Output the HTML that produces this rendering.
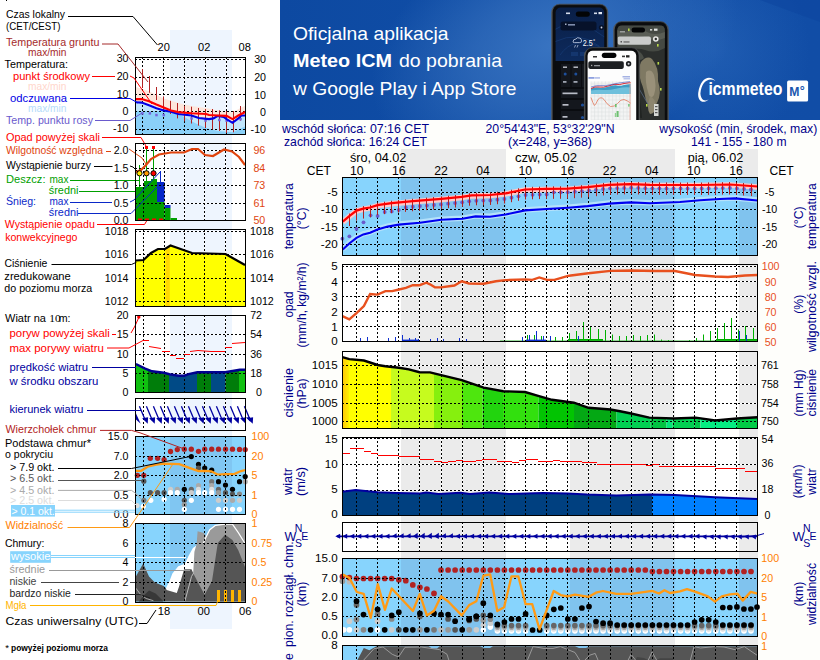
<!DOCTYPE html>
<html><head><meta charset="utf-8"><title>Meteo ICM</title>
<style>html,body{margin:0;padding:0;background:#fff;overflow:hidden}
svg{display:block} text{font-family:"Liberation Sans",sans-serif;white-space:pre}</style></head>
<body><svg width="820" height="660" viewBox="0 0 820 660">
<rect x="170" y="30" width="62" height="599" fill="#eef5fe"/>
<rect x="6" y="0" width="1" height="1" fill="#000"/>
<text x="6" y="18" font-size="10.67" fill="#000" textLength="59" lengthAdjust="spacingAndGlyphs">Czas lokalny</text>
<text x="6" y="29.5" font-size="10.67" fill="#000" textLength="54.5" lengthAdjust="spacingAndGlyphs">(CET/CEST)</text>
<polyline points="68.0,16.5 133.0,16.5 157.5,45.0" stroke="#000" stroke-width="1" fill="none"/>
<text x="157.5" y="50.8" font-size="10.67" fill="#000" textLength="12.3" lengthAdjust="spacingAndGlyphs">20</text>
<text x="198" y="50.8" font-size="10.67" fill="#000" textLength="12.3" lengthAdjust="spacingAndGlyphs">02</text>
<text x="238.5" y="50.8" font-size="10.67" fill="#000" textLength="12.3" lengthAdjust="spacingAndGlyphs">08</text>
<rect x="135" y="57" width="110" height="77" fill="#fff"/>
<rect x="170" y="57" width="62" height="77" fill="#eef5fe"/>
<path d="M184.5 57V134M205.5 57V134M226.5 57V134M170 59.5H232M170 77.5H232M170 94.5H232M170 111.5H232M170 129.5H232" stroke="#fff" stroke-width="1" fill="none" shape-rendering="crispEdges"/>
<polygon points="136.0,87.0 149.0,91.3 163.7,98.6 178.3,103.0 191.5,106.0 206.0,108.0 220.8,111.0 232.5,112.5 241.3,107.4 245.0,106.0 245.0,119.0 238.3,123.0 232.5,127.0 226.6,125.0 213.0,124.0 200.0,122.0 185.0,119.0 171.0,114.0 156.4,108.0 149.0,104.0 136.0,101.0" fill="#fde6dc"/>
<polygon points="135.9,102.3 141.7,102.6 149.0,105.2 156.4,108.2 163.7,110.4 171.0,111.8 178.3,114.0 191.5,115.5 198.8,118.0 209.0,119.1 213.5,118.4 217.8,115.9 223.7,116.9 226.6,119.1 232.5,122.8 238.3,118.4 241.3,115.5 245.7,115.5 245.0,134.0 190.0,134.0 184.5,120.6 163.7,115.5 150.0,111.5 136.0,111.2" fill="#c2e6fc"/>
<polygon points="136.0,111.1 171.0,111.1 184.2,117.0 194.4,122.8 206.1,128.0 217.8,131.0 232.5,132.3 245.0,126.5 245.0,134.0 136.0,134.0" fill="#8ad0f8"/>
<g stroke="#000" stroke-width="1" stroke-dasharray="2,2" shape-rendering="crispEdges">
<line x1="142.5" y1="57" x2="142.5" y2="134"/>
<line x1="163.5" y1="57" x2="163.5" y2="134"/>
<line x1="184.5" y1="57" x2="184.5" y2="134"/>
<line x1="205.5" y1="57" x2="205.5" y2="134"/>
<line x1="226.5" y1="57" x2="226.5" y2="134"/>
<line x1="135" y1="59.5" x2="245" y2="59.5"/>
<line x1="135" y1="77.5" x2="245" y2="77.5"/>
<line x1="135" y1="94.5" x2="245" y2="94.5"/>
<line x1="135" y1="111.5" x2="245" y2="111.5"/>
<line x1="135" y1="129.5" x2="245" y2="129.5"/>
</g>
<line x1="142.5" y1="69" x2="142.5" y2="88" stroke="#b22222" stroke-width="1"/>
<line x1="149.5" y1="76" x2="149.5" y2="92.8" stroke="#b22222" stroke-width="1"/>
<line x1="156.5" y1="87" x2="156.5" y2="100" stroke="#b22222" stroke-width="1"/>
<line x1="163.5" y1="96.4" x2="163.5" y2="111" stroke="#b22222" stroke-width="1"/>
<line x1="170.5" y1="100.8" x2="170.5" y2="114" stroke="#b22222" stroke-width="1"/>
<line x1="177.5" y1="103" x2="177.5" y2="118.4" stroke="#b22222" stroke-width="1"/>
<line x1="184.5" y1="106" x2="184.5" y2="121.3" stroke="#b22222" stroke-width="1"/>
<line x1="191.5" y1="106.7" x2="191.5" y2="123.5" stroke="#b22222" stroke-width="1"/>
<line x1="198.5" y1="108" x2="198.5" y2="125.7" stroke="#b22222" stroke-width="1"/>
<line x1="205.5" y1="109" x2="205.5" y2="128" stroke="#b22222" stroke-width="1"/>
<line x1="212.5" y1="109" x2="212.5" y2="129.4" stroke="#b22222" stroke-width="1"/>
<line x1="219.5" y1="110.4" x2="219.5" y2="130.9" stroke="#b22222" stroke-width="1"/>
<line x1="226.5" y1="111" x2="226.5" y2="133" stroke="#b22222" stroke-width="1"/>
<line x1="233.5" y1="111" x2="233.5" y2="132.3" stroke="#b22222" stroke-width="1"/>
<line x1="240.5" y1="106" x2="240.5" y2="120.6" stroke="#b22222" stroke-width="1"/>
<rect x="141.20000000000002" y="112.1" width="2.5" height="2.5" fill="#7565dc"/>
<rect x="148.60000000000002" y="112.1" width="2.5" height="2.5" fill="#7565dc"/>
<rect x="155.20000000000002" y="113.8" width="2.5" height="2.5" fill="#7565dc"/>
<rect x="162.5" y="113.8" width="2.5" height="2.5" fill="#7565dc"/>
<rect x="190.3" y="117.2" width="2.5" height="2.5" fill="#7565dc"/>
<rect x="204.3" y="119.3" width="2.5" height="2.5" fill="#7565dc"/>
<rect x="218.10000000000002" y="118.7" width="2.5" height="2.5" fill="#7565dc"/>
<rect x="225.4" y="119.39999999999999" width="2.5" height="2.5" fill="#7565dc"/>
<rect x="239.3" y="117.89999999999999" width="2.5" height="2.5" fill="#7565dc"/>
<polyline points="135.9,102.3 141.7,102.6 149.0,105.2 156.4,108.2 163.7,110.4 171.0,111.8 178.3,114.0 191.5,115.5 198.8,118.0 209.0,119.1 213.5,118.4 217.8,115.9 223.7,116.9 226.6,119.1 232.5,122.8 238.3,118.4 241.3,115.5 245.7,115.5" stroke="#0000e6" stroke-width="2.1" fill="none"/>
<polyline points="135.9,99.1 141.7,99.1 149.0,101.3 156.4,104.5 163.7,107.4 171.0,110.4 178.3,112.1 191.5,113.3 206.1,114.0 209.0,115.0 217.8,115.5 226.6,115.9 232.5,119.1 238.3,115.5 245.7,111.8" stroke="#ff0000" stroke-width="2.1" fill="none"/>
<rect x="135.5" y="57.5" width="110" height="77" fill="none" stroke="#000" stroke-width="1" shape-rendering="crispEdges"/>
<text x="128.5" y="62.4" font-size="10.67" fill="#000" text-anchor="end">30</text>
<text x="266" y="63.4" font-size="10.67" fill="#000" text-anchor="end">30</text>
<text x="128.5" y="80.2" font-size="10.67" fill="#000" text-anchor="end">20</text>
<text x="266" y="81.2" font-size="10.67" fill="#000" text-anchor="end">20</text>
<text x="128.5" y="97.5" font-size="10.67" fill="#000" text-anchor="end">10</text>
<text x="266" y="98.5" font-size="10.67" fill="#000" text-anchor="end">10</text>
<text x="128.5" y="115" font-size="10.67" fill="#000" text-anchor="end">0</text>
<text x="266" y="116" font-size="10.67" fill="#000" text-anchor="end">0</text>
<text x="128.5" y="132.4" font-size="10.67" fill="#000" text-anchor="end">-10</text>
<text x="266" y="133.4" font-size="10.67" fill="#000" text-anchor="end">-10</text>
<text x="6" y="46" font-size="10.67" fill="#a52a2a" textLength="93.5" lengthAdjust="spacingAndGlyphs">Temperatura gruntu</text>
<text x="28" y="56" font-size="10.67" fill="#a52a2a" textLength="38.5" lengthAdjust="spacingAndGlyphs">max/min</text>
<polyline points="102.0,44.0 118.0,44.0 148.0,82.0" stroke="#a52a2a" stroke-width="1" fill="none"/>
<text x="4.6" y="67.5" font-size="10.67" fill="#000" textLength="63.4" lengthAdjust="spacingAndGlyphs">Temperatura:</text>
<text x="13" y="79.5" font-size="10.67" fill="#ff0000" textLength="77" lengthAdjust="spacingAndGlyphs">punkt środkowy</text>
<polyline points="92.0,76.5 115.0,76.5" stroke="#ff0000" stroke-width="1" fill="none"/>
<polyline points="130.0,76.0 134.0,78.0 152.0,104.0" stroke="#ff0000" stroke-width="1" fill="none"/>
<text x="28" y="89.5" font-size="10.67" fill="#ffd6cc" textLength="38.5" lengthAdjust="spacingAndGlyphs">max/min</text>
<text x="10" y="101.5" font-size="10.67" fill="#0000e6" textLength="57" lengthAdjust="spacingAndGlyphs">odczuwana</text>
<polyline points="70.0,98.5 130.0,98.5 138.0,103.0" stroke="#0000e6" stroke-width="1" fill="none"/>
<text x="28" y="111.5" font-size="10.67" fill="#b4dcfa" textLength="38.5" lengthAdjust="spacingAndGlyphs">max/min</text>
<text x="6" y="123.5" font-size="10.67" fill="#6a5acd" textLength="87" lengthAdjust="spacingAndGlyphs">Temp. punktu rosy</text>
<polyline points="95.0,120.5 130.0,120.5 142.0,113.0" stroke="#6a5acd" stroke-width="1" fill="none"/>
<rect x="135" y="143" width="110" height="77" fill="#fff"/>
<rect x="170" y="143" width="62" height="77" fill="#eef5fe"/>
<path d="M184.5 143V220M204.5 143V220M225.5 143V220M170 150.5H232M170 168.5H232M170 185.5H232M170 203.5H232" stroke="#fff" stroke-width="1" fill="none" shape-rendering="crispEdges"/>
<rect x="136" y="187" width="8" height="33" fill="#00a000"/>
<rect x="144" y="181" width="7" height="39" fill="#00a000"/>
<rect x="151" y="179" width="6" height="41" fill="#00a000"/>
<rect x="157" y="182" width="7.5" height="20" fill="#0a28c8"/>
<rect x="157" y="202" width="7.5" height="18" fill="#00a000"/>
<rect x="164.5" y="205" width="6" height="3" fill="#0a28c8"/>
<rect x="164.5" y="208" width="6" height="12" fill="#00a000"/>
<rect x="170.5" y="218" width="6.5" height="2" fill="#00a000"/>
<line x1="139.5" y1="165" x2="139.5" y2="187" stroke="#00a000" stroke-width="1"/>
<line x1="146.5" y1="148" x2="146.5" y2="181" stroke="#00a000" stroke-width="1"/>
<line x1="153.5" y1="148" x2="153.5" y2="179" stroke="#00a000" stroke-width="1"/>
<line x1="160.5" y1="171" x2="160.5" y2="182" stroke="#0a28c8" stroke-width="1"/>
<g stroke="#000" stroke-width="1" stroke-dasharray="2,2" shape-rendering="crispEdges">
<line x1="143.5" y1="143" x2="143.5" y2="220"/>
<line x1="164.5" y1="143" x2="164.5" y2="220"/>
<line x1="184.5" y1="143" x2="184.5" y2="220"/>
<line x1="204.5" y1="143" x2="204.5" y2="220"/>
<line x1="225.5" y1="143" x2="225.5" y2="220"/>
<line x1="135" y1="150.5" x2="245" y2="150.5"/>
<line x1="135" y1="168.5" x2="245" y2="168.5"/>
<line x1="135" y1="185.5" x2="245" y2="185.5"/>
<line x1="135" y1="203.5" x2="245" y2="203.5"/>
</g>
<rect x="145" y="146" width="3" height="3" fill="#ff0000"/>
<rect x="152" y="146" width="3" height="3" fill="#ff0000"/>
<rect x="138" y="218.5" width="4" height="1.5" fill="#ff0000"/>
<rect x="145" y="218.5" width="4" height="1.5" fill="#ff0000"/>
<rect x="152" y="218.5" width="4" height="1.5" fill="#ff0000"/>
<rect x="159" y="218.5" width="4" height="1.5" fill="#ff0000"/>
<polyline points="136.0,172.0 141.0,170.0 146.0,165.0 151.0,159.0 159.0,154.5 171.0,152.5 184.0,152.5 192.0,149.0 198.0,149.0 205.0,155.0 213.0,156.0 224.0,149.5 232.0,151.5 239.0,157.0 245.0,165.0" stroke="#e0440e" stroke-width="2.2" fill="none"/>
<circle cx="139.5" cy="173.3" r="2.6" fill="#ffe600" stroke="#000" stroke-width="1"/>
<circle cx="146.5" cy="173.3" r="2.6" fill="#ff9900" stroke="#000" stroke-width="1"/>
<circle cx="153.5" cy="173.3" r="2.6" fill="#ff0000" stroke="#000" stroke-width="1"/>
<polyline points="102.0,137.5 141.0,137.5 146.0,146.0" stroke="#ff0000" stroke-width="1" fill="none"/>
<polyline points="106.0,151.5 111.0,151.5" stroke="#e0440e" stroke-width="1" fill="none"/>
<polyline points="129.0,149.0 142.0,158.0 146.0,164.0" stroke="#e0440e" stroke-width="1" fill="none"/>
<polyline points="94.0,166.5 112.5,166.5" stroke="#000" stroke-width="1" fill="none"/>
<polyline points="130.0,166.0 133.0,167.0 138.0,172.0" stroke="#000" stroke-width="1" fill="none"/>
<polyline points="70.0,180.5 139.0,180.5" stroke="#00a000" stroke-width="1" fill="none"/>
<polyline points="79.0,191.5 136.0,191.5" stroke="#00a000" stroke-width="1" fill="none"/>
<polyline points="70.0,202.5 112.0,202.5" stroke="#0a28c8" stroke-width="1" fill="none"/>
<polyline points="130.0,202.0 134.0,200.0 160.0,172.0" stroke="#0a28c8" stroke-width="1" fill="none"/>
<polyline points="78.0,213.5 131.0,213.5 158.0,186.0" stroke="#0a28c8" stroke-width="1" fill="none"/>
<polyline points="97.0,224.5 144.5,224.5 147.5,219.5" stroke="#ff0000" stroke-width="1" fill="none"/>
<rect x="135.5" y="143.5" width="110" height="77" fill="none" stroke="#000" stroke-width="1" shape-rendering="crispEdges"/>
<text x="128.5" y="154" font-size="10.67" fill="#000" text-anchor="end">2.0</text>
<text x="128.5" y="172" font-size="10.67" fill="#000" text-anchor="end">1.5</text>
<text x="128.5" y="189" font-size="10.67" fill="#000" text-anchor="end">1.0</text>
<text x="128.5" y="207" font-size="10.67" fill="#000" text-anchor="end">0.5</text>
<text x="128.5" y="224" font-size="10.67" fill="#000" text-anchor="end">0.0</text>
<text x="265.3" y="154" font-size="10.67" fill="#e0440e" text-anchor="end">96</text>
<text x="265.3" y="172" font-size="10.67" fill="#e0440e" text-anchor="end">84</text>
<text x="265.3" y="189" font-size="10.67" fill="#e0440e" text-anchor="end">73</text>
<text x="265.3" y="207" font-size="10.67" fill="#e0440e" text-anchor="end">61</text>
<text x="265.3" y="224" font-size="10.67" fill="#e0440e" text-anchor="end">50</text>
<text x="6" y="140.5" font-size="10.67" fill="#ff0000" textLength="94" lengthAdjust="spacingAndGlyphs">Opad powyżej skali</text>
<text x="6" y="154" font-size="10.67" fill="#e0440e" textLength="97" lengthAdjust="spacingAndGlyphs">Wilgotność względna</text>
<text x="6" y="168.5" font-size="10.67" fill="#000" textLength="85" lengthAdjust="spacingAndGlyphs">Wystąpienie burzy</text>
<text x="6" y="182.8" font-size="10.67" fill="#00a000" textLength="39.5" lengthAdjust="spacingAndGlyphs">Deszcz:</text>
<text x="49.5" y="182.8" font-size="10.67" fill="#00a000" textLength="19" lengthAdjust="spacingAndGlyphs">max</text>
<text x="48.8" y="193.8" font-size="10.67" fill="#00a000" textLength="29.6" lengthAdjust="spacingAndGlyphs">średni</text>
<text x="6" y="204.8" font-size="10.67" fill="#0a28c8" textLength="30" lengthAdjust="spacingAndGlyphs">Śnieg:</text>
<text x="49.5" y="204.8" font-size="10.67" fill="#0a28c8" textLength="19" lengthAdjust="spacingAndGlyphs">max</text>
<text x="48.8" y="215.8" font-size="10.67" fill="#0a28c8" textLength="29.6" lengthAdjust="spacingAndGlyphs">średni</text>
<text x="4.8" y="227.5" font-size="10.67" fill="#ff0000" textLength="90" lengthAdjust="spacingAndGlyphs">Wystąpienie opadu</text>
<text x="5.2" y="241" font-size="10.67" fill="#ff0000" textLength="72.2" lengthAdjust="spacingAndGlyphs">konwekcyjnego</text>
<rect x="135" y="229" width="110" height="77" fill="#fff"/>
<rect x="170" y="229" width="62" height="77" fill="#eef5fe"/>
<path d="M184.5 229V306M204.5 229V306M225.5 229V306M170 231.5H232M170 254.5H232M170 278.5H232M170 301.5H232" stroke="#fff" stroke-width="1" fill="none" shape-rendering="crispEdges"/>
<polygon points="136.0,260.5 143.5,260.0 151.0,253.0 158.0,249.0 165.0,249.0 170.5,245.5 192.0,253.0 225.5,254.0 245.0,265.0 245.0,306.0 136.0,306.0" fill="#ffff00"/>
<defs><linearGradient id="og" x1="0" x2="1" y1="0" y2="0"><stop offset="0" stop-color="#ffea10"/><stop offset="1" stop-color="#ffcc20"/></linearGradient></defs>
<polygon points="165.6,248.6 169.8,246.0 169.8,306.0 165.6,306.0" fill="#ffd800"/>
<g stroke="#000" stroke-width="1" stroke-dasharray="2,2" shape-rendering="crispEdges">
<line x1="143.5" y1="229" x2="143.5" y2="306"/>
<line x1="164.5" y1="229" x2="164.5" y2="306"/>
<line x1="184.5" y1="229" x2="184.5" y2="306"/>
<line x1="204.5" y1="229" x2="204.5" y2="306"/>
<line x1="225.5" y1="229" x2="225.5" y2="306"/>
<line x1="135" y1="231.5" x2="245" y2="231.5"/>
<line x1="135" y1="254.5" x2="245" y2="254.5"/>
<line x1="135" y1="278.5" x2="245" y2="278.5"/>
<line x1="135" y1="301.5" x2="245" y2="301.5"/>
</g>
<polyline points="136.0,260.5 143.5,260.0 151.0,253.0 158.0,249.0 165.0,249.0 170.5,245.5 192.0,253.0 225.5,254.0 245.0,265.0" stroke="#000" stroke-width="2.2" fill="none"/>
<rect x="135.5" y="229.5" width="110" height="77" fill="none" stroke="#000" stroke-width="1" shape-rendering="crispEdges"/>
<text x="128.5" y="235" font-size="10.67" fill="#000" text-anchor="end">1018</text>
<text x="273.8" y="235" font-size="10.67" fill="#000" text-anchor="end">1018</text>
<text x="128.5" y="258" font-size="10.67" fill="#000" text-anchor="end">1016</text>
<text x="273.8" y="258" font-size="10.67" fill="#000" text-anchor="end">1016</text>
<text x="128.5" y="282" font-size="10.67" fill="#000" text-anchor="end">1014</text>
<text x="273.8" y="282" font-size="10.67" fill="#000" text-anchor="end">1014</text>
<text x="128.5" y="305" font-size="10.67" fill="#000" text-anchor="end">1012</text>
<text x="273.8" y="305" font-size="10.67" fill="#000" text-anchor="end">1012</text>
<text x="4.4" y="266.7" font-size="10.67" fill="#000" textLength="43" lengthAdjust="spacingAndGlyphs">Ciśnienie</text>
<polyline points="51.5,264.5 131.5,264.5 136.5,262.2" stroke="#000" stroke-width="1" fill="none"/>
<text x="4.3" y="279.7" font-size="10.67" fill="#000" textLength="66.5" lengthAdjust="spacingAndGlyphs">zredukowane</text>
<text x="4.3" y="292.4" font-size="10.67" fill="#000" textLength="88" lengthAdjust="spacingAndGlyphs">do poziomu morza</text>
<rect x="135" y="315" width="110" height="77" fill="#fff"/>
<rect x="170" y="315" width="62" height="77" fill="#eef5fe"/>
<path d="M184.5 315V392M204.5 315V392M225.5 315V392M170 334.5H232M170 354.5H232M170 373.5H232" stroke="#fff" stroke-width="1" fill="none" shape-rendering="crispEdges"/>
<clipPath id="wclip"><polygon points="135.9,364 144.6,368.4 152,371.3 163.7,372.8 169.5,374.2 178.3,375.7 184.2,375.7 188.6,374.2 197.3,372.3 225.2,372.3 232.5,371 239.8,369.8 245.7,369.8 245,392 136,392"/></clipPath>
<g clip-path="url(#wclip)">
<rect x="136" y="360" width="12" height="32" fill="#10c010"/>
<rect x="148" y="360" width="21" height="32" fill="#007d0a"/>
<rect x="169" y="360" width="28" height="32" fill="#004a86"/>
<rect x="197" y="360" width="14" height="32" fill="#007d0a"/>
<rect x="211" y="360" width="14.5" height="32" fill="#004a86"/>
<rect x="225.5" y="360" width="13.5" height="32" fill="#007d0a"/>
<rect x="239" y="360" width="6" height="32" fill="#10c010"/>
</g>
<g stroke="#000" stroke-width="1" stroke-dasharray="2,2" shape-rendering="crispEdges">
<line x1="143.5" y1="315" x2="143.5" y2="392"/>
<line x1="164.5" y1="315" x2="164.5" y2="392"/>
<line x1="184.5" y1="315" x2="184.5" y2="392"/>
<line x1="204.5" y1="315" x2="204.5" y2="392"/>
<line x1="225.5" y1="315" x2="225.5" y2="392"/>
<line x1="135" y1="334.5" x2="245" y2="334.5"/>
<line x1="135" y1="354.5" x2="245" y2="354.5"/>
<line x1="135" y1="373.5" x2="245" y2="373.5"/>
</g>
<polyline points="135.9,364.0 144.6,368.4 152.0,371.3 163.7,372.8 169.5,374.2 178.3,375.7 184.2,375.7 188.6,374.2 197.3,372.3 225.2,372.3 232.5,371.0 239.8,369.8 245.7,369.8" stroke="#000090" stroke-width="2.4" fill="none"/>
<line x1="143" y1="340.5" x2="149" y2="340.5" stroke="#ff0000" stroke-width="1"/>
<line x1="149" y1="346.5" x2="161" y2="348.5" stroke="#ff0000" stroke-width="1"/>
<line x1="162" y1="351.5" x2="170" y2="351.5" stroke="#ff0000" stroke-width="1"/>
<line x1="170" y1="355.5" x2="176" y2="355.5" stroke="#ff0000" stroke-width="1"/>
<line x1="176" y1="358.5" x2="184" y2="358.5" stroke="#ff0000" stroke-width="1"/>
<line x1="184" y1="354.5" x2="190" y2="354.5" stroke="#ff0000" stroke-width="1"/>
<line x1="190" y1="351.5" x2="198" y2="350.5" stroke="#ff0000" stroke-width="1"/>
<line x1="198" y1="350.5" x2="211" y2="351.5" stroke="#ff0000" stroke-width="1"/>
<line x1="211" y1="351.5" x2="225" y2="351.5" stroke="#ff0000" stroke-width="1"/>
<line x1="225" y1="347.5" x2="232" y2="347.5" stroke="#ff0000" stroke-width="1"/>
<line x1="232" y1="343.5" x2="245" y2="342.5" stroke="#ff0000" stroke-width="1"/>
<circle cx="138.8" cy="317.1" r="1.7" fill="#ff0000"/>
<polyline points="139.0,317.0 135.0,326.0 131.0,333.0" stroke="#ff0000" stroke-width="1" fill="none"/>
<rect x="135.5" y="315.5" width="110" height="77" fill="none" stroke="#000" stroke-width="1" shape-rendering="crispEdges"/>
<text x="128.5" y="319" font-size="10.67" fill="#000" text-anchor="end">20</text>
<text x="128.5" y="338" font-size="10.67" fill="#000" text-anchor="end">15</text>
<text x="128.5" y="358" font-size="10.67" fill="#000" text-anchor="end">10</text>
<text x="128.5" y="377" font-size="10.67" fill="#000" text-anchor="end">5</text>
<text x="128.5" y="396" font-size="10.67" fill="#000" text-anchor="end">0</text>
<text x="262" y="319" font-size="10.67" fill="#000" text-anchor="end">72</text>
<text x="262" y="338" font-size="10.67" fill="#000" text-anchor="end">54</text>
<text x="262" y="358" font-size="10.67" fill="#000" text-anchor="end">36</text>
<text x="262" y="377" font-size="10.67" fill="#000" text-anchor="end">18</text>
<text x="262" y="396" font-size="10.67" fill="#000" text-anchor="end">0</text>
<text x="5" y="321.5" font-size="10.67" fill="#000" textLength="41" lengthAdjust="spacingAndGlyphs">Wiatr na</text>
<text x="49.3" y="321.5" font-size="11.4" fill="#000" style="font-family:Liberation Serif,serif">10</text>
<text x="58.7" y="321.5" font-size="10.67" fill="#000" textLength="11.8" lengthAdjust="spacingAndGlyphs">m:</text>
<text x="9.5" y="337.3" font-size="10.67" fill="#ff0000" textLength="100.4" lengthAdjust="spacingAndGlyphs">poryw powyżej skali</text>
<polyline points="112.0,334.5 116.0,334.5" stroke="#ff0000" stroke-width="1" fill="none"/>
<text x="9.5" y="351.6" font-size="10.67" fill="#ff0000" textLength="94.4" lengthAdjust="spacingAndGlyphs">max porywy wiatru</text>
<polyline points="107.0,348.0 129.0,348.0 143.0,340.5" stroke="#ff0000" stroke-width="1" fill="none"/>
<text x="9.5" y="371.3" font-size="10.67" fill="#0000a0" textLength="78.6" lengthAdjust="spacingAndGlyphs">prędkość wiatru</text>
<polyline points="92.0,367.5 136.0,367.5" stroke="#0000a0" stroke-width="1" fill="none"/>
<text x="9.5" y="384.6" font-size="10.67" fill="#0000a0" textLength="88.8" lengthAdjust="spacingAndGlyphs">w środku obszaru</text>
<rect x="135" y="398" width="110" height="32" fill="#fff"/>
<rect x="170" y="398" width="62" height="32" fill="#eef5fe"/>
<path d="M184.5 398V430M204.5 398V430M225.5 398V430" stroke="#fff" stroke-width="1" fill="none" shape-rendering="crispEdges"/>
<g stroke="#000" stroke-width="1" stroke-dasharray="2,2" shape-rendering="crispEdges">
<line x1="143.5" y1="398" x2="143.5" y2="430"/>
<line x1="164.5" y1="398" x2="164.5" y2="430"/>
<line x1="184.5" y1="398" x2="184.5" y2="430"/>
<line x1="204.5" y1="398" x2="204.5" y2="430"/>
<line x1="225.5" y1="398" x2="225.5" y2="430"/>
</g>
<line x1="139.4" y1="406.3" x2="145.20000000000002" y2="420" stroke="#0000a0" stroke-width="1.3"/>
<polygon points="147.7,423.8 142.1,418.2 148.1,417.2" fill="#0000a0"/>
<line x1="146.4" y1="406.3" x2="152.20000000000002" y2="420" stroke="#0000a0" stroke-width="1.3"/>
<polygon points="154.7,423.8 149.1,418.2 155.1,417.2" fill="#0000a0"/>
<line x1="153.4" y1="406.3" x2="159.20000000000002" y2="420" stroke="#0000a0" stroke-width="1.3"/>
<polygon points="161.7,423.8 156.1,418.2 162.1,417.2" fill="#0000a0"/>
<line x1="160.4" y1="406.3" x2="166.20000000000002" y2="420" stroke="#0000a0" stroke-width="1.3"/>
<polygon points="168.7,423.8 163.1,418.2 169.1,417.2" fill="#0000a0"/>
<line x1="167.4" y1="406.3" x2="173.20000000000002" y2="420" stroke="#0000a0" stroke-width="1.3"/>
<polygon points="175.7,423.8 170.1,418.2 176.1,417.2" fill="#0000a0"/>
<line x1="174.4" y1="406.3" x2="180.20000000000002" y2="420" stroke="#0000a0" stroke-width="1.3"/>
<polygon points="182.7,423.8 177.1,418.2 183.1,417.2" fill="#0000a0"/>
<line x1="181.4" y1="406.3" x2="187.20000000000002" y2="420" stroke="#0000a0" stroke-width="1.3"/>
<polygon points="189.7,423.8 184.1,418.2 190.1,417.2" fill="#0000a0"/>
<line x1="188.4" y1="406.3" x2="194.20000000000002" y2="420" stroke="#0000a0" stroke-width="1.3"/>
<polygon points="196.7,423.8 191.1,418.2 197.1,417.2" fill="#0000a0"/>
<line x1="195.4" y1="406.3" x2="201.20000000000002" y2="420" stroke="#0000a0" stroke-width="1.3"/>
<polygon points="203.7,423.8 198.1,418.2 204.1,417.2" fill="#0000a0"/>
<line x1="202.4" y1="406.3" x2="208.20000000000002" y2="420" stroke="#0000a0" stroke-width="1.3"/>
<polygon points="210.7,423.8 205.1,418.2 211.1,417.2" fill="#0000a0"/>
<line x1="209.4" y1="406.3" x2="215.20000000000002" y2="420" stroke="#0000a0" stroke-width="1.3"/>
<polygon points="217.7,423.8 212.1,418.2 218.1,417.2" fill="#0000a0"/>
<line x1="216.4" y1="406.3" x2="222.20000000000002" y2="420" stroke="#0000a0" stroke-width="1.3"/>
<polygon points="224.7,423.8 219.1,418.2 225.1,417.2" fill="#0000a0"/>
<line x1="223.4" y1="406.3" x2="229.20000000000002" y2="420" stroke="#0000a0" stroke-width="1.3"/>
<polygon points="231.7,423.8 226.1,418.2 232.1,417.2" fill="#0000a0"/>
<line x1="230.4" y1="406.3" x2="236.20000000000002" y2="420" stroke="#0000a0" stroke-width="1.3"/>
<polygon points="238.7,423.8 233.1,418.2 239.1,417.2" fill="#0000a0"/>
<line x1="237.4" y1="406.3" x2="243.20000000000002" y2="420" stroke="#0000a0" stroke-width="1.3"/>
<polygon points="245.7,423.8 240.1,418.2 246.1,417.2" fill="#0000a0"/>
<line x1="244.4" y1="406.3" x2="250.20000000000002" y2="420" stroke="#0000a0" stroke-width="1.3"/>
<polygon points="252.7,423.8 247.1,418.2 253.1,417.2" fill="#0000a0"/>
<polygon points="136.0,413.5 140.7,423.8 136.0,419.5" fill="#0000a0"/>
<polygon points="246.0,417.5 250.0,417.0 250.5,422.0" fill="#0000a0"/>
<rect x="135.5" y="398.5" width="110" height="32" fill="none" stroke="#000" stroke-width="1" shape-rendering="crispEdges"/>
<text x="9.5" y="412.8" font-size="10.67" fill="#0000a0" textLength="74" lengthAdjust="spacingAndGlyphs">kierunek wiatru</text>
<polyline points="87.0,410.5 141.0,410.5" stroke="#0000a0" stroke-width="1" fill="none"/>
<rect x="135" y="436" width="110" height="78" fill="#87d4fd"/>
<rect x="170" y="436" width="62" height="78" fill="#80c6f2"/>
<path d="M184.5 436V514M204.5 436V514M225.5 436V514M170 456.5H232M170 475.5H232M170 495.5H232" stroke="#87d4fd" stroke-width="1" fill="none" shape-rendering="crispEdges"/>
<circle cx="137.4" cy="475.3" r="2.65" fill="#b22222"/>
<circle cx="143.8" cy="475.3" r="2.65" fill="#b22222"/>
<circle cx="150.3" cy="458.3" r="2.65" fill="#b22222"/>
<circle cx="157.6" cy="458.3" r="2.65" fill="#b22222"/>
<circle cx="164.1" cy="459.6" r="2.65" fill="#b22222"/>
<circle cx="170.5" cy="451.5" r="2.65" fill="#b22222"/>
<circle cx="177.3" cy="449.6" r="2.65" fill="#b22222"/>
<circle cx="184.3" cy="449.2" r="2.65" fill="#b22222"/>
<circle cx="191.3" cy="449.2" r="2.65" fill="#b22222"/>
<circle cx="198.5" cy="451.3" r="2.65" fill="#b22222"/>
<circle cx="204.7" cy="449.2" r="2.65" fill="#b22222"/>
<circle cx="211.7" cy="449.2" r="2.65" fill="#b22222"/>
<circle cx="218.5" cy="449.2" r="2.65" fill="#b22222"/>
<circle cx="225.5" cy="449.2" r="2.65" fill="#b22222"/>
<circle cx="232.5" cy="449.2" r="2.65" fill="#b22222"/>
<circle cx="239.5" cy="449.4" r="2.65" fill="#b22222"/>
<circle cx="245.2" cy="449.6" r="2.65" fill="#b22222"/>
<circle cx="143.8" cy="481.2" r="2.6" fill="#555"/>
<circle cx="150.3" cy="492.7" r="2.6" fill="#555"/>
<circle cx="157.6" cy="492.7" r="2.6" fill="#555"/>
<circle cx="164.1" cy="492.7" r="2.6" fill="#555"/>
<circle cx="143.8" cy="500.3" r="2.6" fill="#777"/>
<circle cx="137.0" cy="505.6" r="2.6" fill="#ddd"/>
<circle cx="143.3" cy="506.3" r="2.6" fill="#fff"/>
<circle cx="150.8" cy="500.3" r="2.6" fill="#fff"/>
<circle cx="164.1" cy="499.3" r="2.6" fill="#fff"/>
<circle cx="170.5" cy="489.3" r="2.6" fill="#ccc"/>
<circle cx="170.5" cy="492.7" r="2.6" fill="#fff"/>
<circle cx="177.3" cy="489.3" r="2.6" fill="#aaa"/>
<circle cx="177.3" cy="492.7" r="2.6" fill="#fff"/>
<circle cx="184.3" cy="489.3" r="2.6" fill="#000"/>
<circle cx="184.3" cy="500.3" r="2.6" fill="#555"/>
<circle cx="184.3" cy="504.6" r="2.6" fill="#999"/>
<circle cx="184.3" cy="509.3" r="2.6" fill="#fff"/>
<circle cx="191.3" cy="489.3" r="2.6" fill="#666"/>
<circle cx="191.3" cy="492.7" r="2.6" fill="#ccc"/>
<circle cx="191.3" cy="500.3" r="2.6" fill="#fff"/>
<circle cx="191.3" cy="456.6" r="2.6" fill="#000"/>
<circle cx="198.5" cy="464.3" r="2.6" fill="#000"/>
<circle cx="198.5" cy="468.1" r="2.6" fill="#555"/>
<circle cx="204.7" cy="468.1" r="2.6" fill="#000"/>
<circle cx="211.7" cy="470.2" r="2.6" fill="#000"/>
<circle cx="198.5" cy="485.5" r="2.6" fill="#aaa"/>
<circle cx="198.5" cy="489.3" r="2.6" fill="#ddd"/>
<circle cx="198.5" cy="492.7" r="2.6" fill="#fff"/>
<circle cx="204.7" cy="492.7" r="2.6" fill="#fff"/>
<circle cx="211.7" cy="481.7" r="2.6" fill="#777"/>
<circle cx="211.7" cy="485.5" r="2.6" fill="#aaa"/>
<circle cx="211.7" cy="489.3" r="2.6" fill="#ddd"/>
<circle cx="211.7" cy="492.7" r="2.6" fill="#fff"/>
<circle cx="218.5" cy="481.7" r="2.6" fill="#000"/>
<circle cx="218.5" cy="489.3" r="2.6" fill="#666"/>
<circle cx="218.5" cy="492.7" r="2.6" fill="#999"/>
<circle cx="218.5" cy="500.3" r="2.6" fill="#ccc"/>
<circle cx="218.5" cy="509.3" r="2.6" fill="#fff"/>
<circle cx="225.5" cy="485.1" r="2.6" fill="#000"/>
<circle cx="225.5" cy="492.7" r="2.6" fill="#555"/>
<circle cx="225.5" cy="500.3" r="2.6" fill="#ccc"/>
<circle cx="225.5" cy="509.3" r="2.6" fill="#fff"/>
<circle cx="232.5" cy="489.3" r="2.6" fill="#000"/>
<circle cx="232.5" cy="494.0" r="2.6" fill="#555"/>
<circle cx="232.5" cy="500.3" r="2.6" fill="#aaa"/>
<circle cx="232.5" cy="509.3" r="2.6" fill="#fff"/>
<circle cx="239.5" cy="481.7" r="2.6" fill="#000"/>
<circle cx="239.5" cy="494.0" r="2.6" fill="#888"/>
<circle cx="239.5" cy="500.3" r="2.6" fill="#ccc"/>
<circle cx="239.5" cy="509.3" r="2.6" fill="#fff"/>
<circle cx="245.2" cy="476.6" r="2.6" fill="#000"/>
<circle cx="245.2" cy="481.7" r="2.6" fill="#aaa"/>
<g stroke="#000" stroke-width="1" stroke-dasharray="2,2" shape-rendering="crispEdges">
<line x1="143.5" y1="436" x2="143.5" y2="514"/>
<line x1="164.5" y1="436" x2="164.5" y2="514"/>
<line x1="184.5" y1="436" x2="184.5" y2="514"/>
<line x1="204.5" y1="436" x2="204.5" y2="514"/>
<line x1="225.5" y1="436" x2="225.5" y2="514"/>
<line x1="135" y1="456.5" x2="245" y2="456.5"/>
<line x1="135" y1="475.5" x2="245" y2="475.5"/>
<line x1="135" y1="495.5" x2="245" y2="495.5"/>
</g>
<polyline points="135.3,470.8 141.2,470.8 147.6,466.8 156.1,464.7 164.6,463.6 179.4,464.1 190.0,468.1 198.5,471.1 204.9,470.8 211.2,471.3 217.6,474.5 226.1,474.2 234.6,473.8 241.0,471.1 245.6,470.0" stroke="#ff9a14" stroke-width="2.2" fill="none"/>
<rect x="135.5" y="436.5" width="110" height="78" fill="none" stroke="#000" stroke-width="1" shape-rendering="crispEdges"/>
<text x="128.5" y="440" font-size="10.67" fill="#000" text-anchor="end">15.0</text>
<text x="128.5" y="460" font-size="10.67" fill="#000" text-anchor="end">7.0</text>
<text x="128.5" y="479" font-size="10.67" fill="#000" text-anchor="end">2.0</text>
<text x="128.5" y="499" font-size="10.67" fill="#000" text-anchor="end">0.5</text>
<text x="128.5" y="518" font-size="10.67" fill="#000" text-anchor="end">0.0</text>
<text x="251.5" y="440" font-size="10.67" fill="#ff8000">100</text>
<text x="251.5" y="460" font-size="10.67" fill="#ff8000">20</text>
<text x="251.5" y="479" font-size="10.67" fill="#ff8000">5</text>
<text x="251.5" y="499" font-size="10.67" fill="#ff8000">1</text>
<text x="251.5" y="518" font-size="10.67" fill="#ff8000">0</text>
<text x="5.5" y="432.6" font-size="10.67" fill="#b22222" textLength="91" lengthAdjust="spacingAndGlyphs">Wierzchołek chmur</text>
<polyline points="100.0,430.4 131.5,430.4 140.0,432.8 183.0,448.5" stroke="#b22222" stroke-width="1" fill="none"/>
<text x="5" y="447.3" font-size="10.67" fill="#000" textLength="86" lengthAdjust="spacingAndGlyphs">Podstawa chmur*</text>
<text x="5" y="458.4" font-size="10.67" fill="#000" textLength="48" lengthAdjust="spacingAndGlyphs">o pokryciu</text>
<text x="10" y="471.2" font-size="10.67" fill="#000" textLength="44.4" lengthAdjust="spacingAndGlyphs">> 7.9 okt.</text>
<polyline points="58.0,468.5 131.5,468.5 140.0,466.8 190.0,456.5" stroke="#000" stroke-width="1" fill="none"/>
<text x="10" y="482.4" font-size="10.67" fill="#555" textLength="44.4" lengthAdjust="spacingAndGlyphs">> 6.5 okt.</text>
<polyline points="58.0,480.5 142.0,480.5" stroke="#555" stroke-width="1" fill="none"/>
<text x="10" y="493.5" font-size="10.67" fill="#aaa" textLength="44.4" lengthAdjust="spacingAndGlyphs">> 4.5 okt.</text>
<polyline points="58.0,490.4 131.5,490.4 136.6,494.0 141.0,499.0" stroke="#aaa" stroke-width="1" fill="none"/>
<text x="10" y="503.7" font-size="10.67" fill="#ddd" textLength="44.4" lengthAdjust="spacingAndGlyphs">> 2.5 okt.</text>
<polyline points="58.0,500.5 131.5,500.5 136.0,505.0" stroke="#ddd" stroke-width="1" fill="none"/>
<rect x="11" y="505" width="44" height="11.6" fill="#87d4fd"/>
<text x="11.4" y="514.6" font-size="10.67" fill="#fff" textLength="43.4" lengthAdjust="spacingAndGlyphs">> 0.1 okt.</text>
<polyline points="55.0,510.2 135.0,510.2" stroke="#87d4fd" stroke-width="1" fill="none"/>
<polyline points="55.0,512.2 135.0,512.2" stroke="#87d4fd" stroke-width="1" fill="none"/>
<text x="5.5" y="529" font-size="10.67" fill="#ff8000" textLength="57.6" lengthAdjust="spacingAndGlyphs">Widzialność</text>
<polyline points="67.5,527.5 129.5,527.5 138.5,514.5 173.0,464.0" stroke="#ff9a14" stroke-width="1" fill="none"/>
<rect x="135" y="523" width="110" height="79" fill="#87d4fd"/>
<rect x="170" y="523" width="62" height="79" fill="#80c6f2"/>
<path d="M184.5 523V602M204.5 523V602M225.5 523V602M170 543.5H232M170 562.5H232M170 582.5H232" stroke="#87d4fd" stroke-width="1" fill="none" shape-rendering="crispEdges"/>
<clipPath id="kclip"><rect x="136" y="524" width="109" height="78"/></clipPath><g clip-path="url(#kclip)">
<polygon points="165.1,591.2 166.6,586.8 169.2,581.7 172.4,573.6 178.3,566.3 184.9,563.7 188.5,556.1 192.9,548.0 197.3,545.1 203.2,543.6 206.1,537.0 209.8,529.7 214.9,525.3 225.1,524.1 245.6,524.1 245.6,601.4 165.1,601.4" fill="#fff"/>
<polygon points="184.9,601.4 191.5,576.5 193.2,573.3 194.4,551.7 196.6,544.3 197.6,531.2 203.9,532.9 206.4,536.7 209.8,529.7 215.6,525.3 225.1,524.1 245.6,524.1 245.6,601.4" fill="#9a9a9a"/>
<polygon points="135.9,576.5 143.2,563.4 149.0,576.5 154.9,582.4 163.7,586.1 165.9,588.2 166.6,590.0 176.8,592.9 179.0,586.8 184.1,569.2 191.5,569.2 193.7,574.3 198.8,583.9 204.6,594.8 212.0,580.9 217.8,542.9 225.1,534.8 232.4,540.0 238.3,550.2 245.6,568.5 245.6,601.4 135.9,601.4" fill="#555"/>
<polygon points="138.8,601.4 143.9,595.6 149.0,590.4 155.6,593.4 162.9,600.7 162.9,601.4" fill="#383838"/>
</g>
<polyline points="135.9,588.2 140.2,594.1 146.1,598.5 153.4,600.7" stroke="#aaa" stroke-width="1" fill="none"/>
<polyline points="184.9,601.1 191.5,576.5 193.7,572.9" stroke="#bbb" stroke-width="1" fill="none"/>
<polyline points="203.2,543.6 206.1,537.0 209.8,529.7 215.6,525.3 225.1,524.1 232.4,524.1 238.3,532.6 244.9,543.2" stroke="#fff" stroke-width="1.2" fill="none"/>
<rect x="217" y="590" width="3" height="12" fill="#ffb400"/>
<rect x="224" y="590" width="3" height="12" fill="#ffb400"/>
<rect x="231" y="590" width="3" height="12" fill="#ffb400"/>
<rect x="238" y="590" width="3" height="12" fill="#ffb400"/>
<g stroke="#000" stroke-width="1" stroke-dasharray="2,2" shape-rendering="crispEdges">
<line x1="143.5" y1="523" x2="143.5" y2="602"/>
<line x1="164.5" y1="523" x2="164.5" y2="602"/>
<line x1="184.5" y1="523" x2="184.5" y2="602"/>
<line x1="204.5" y1="523" x2="204.5" y2="602"/>
<line x1="225.5" y1="523" x2="225.5" y2="602"/>
<line x1="135" y1="543.5" x2="245" y2="543.5"/>
<line x1="135" y1="562.5" x2="245" y2="562.5"/>
<line x1="135" y1="582.5" x2="245" y2="582.5"/>
</g>
<rect x="135.5" y="523.5" width="110" height="79" fill="none" stroke="#000" stroke-width="1" shape-rendering="crispEdges"/>
<text x="128.5" y="527" font-size="10.67" fill="#000" text-anchor="end">8</text>
<text x="128.5" y="547" font-size="10.67" fill="#000" text-anchor="end">6</text>
<text x="128.5" y="566" font-size="10.67" fill="#000" text-anchor="end">4</text>
<text x="128.5" y="586" font-size="10.67" fill="#000" text-anchor="end">2</text>
<text x="128.5" y="605" font-size="10.67" fill="#000" text-anchor="end">0</text>
<text x="251.5" y="527" font-size="10.67" fill="#ff8000">1</text>
<text x="251.5" y="547" font-size="10.67" fill="#ff8000">0.75</text>
<text x="251.5" y="566" font-size="10.67" fill="#ff8000">0.5</text>
<text x="251.5" y="586" font-size="10.67" fill="#ff8000">0.25</text>
<text x="251.5" y="605" font-size="10.67" fill="#ff8000">0</text>
<text x="5" y="546.5" font-size="10.67" fill="#000" textLength="39.4" lengthAdjust="spacingAndGlyphs">Chmury:</text>
<rect x="10.2" y="551.2" width="40.7" height="11.6" fill="#87d4fd"/>
<text x="11" y="559.8" font-size="11" fill="#fff" textLength="39.4" lengthAdjust="spacingAndGlyphs">wysokie</text>
<polyline points="51.0,555.5 135.0,555.5" stroke="#87d4fd" stroke-width="1" fill="none"/>
<polyline points="51.0,557.5 135.0,557.5" stroke="#87d4fd" stroke-width="1" fill="none"/>
<polyline points="135.0,557.5 186.0,557.5" stroke="#fff" stroke-width="1" fill="none"/>
<text x="9.5" y="572.7" font-size="10.67" fill="#999" textLength="35.6" lengthAdjust="spacingAndGlyphs">średnie</text>
<polyline points="49.0,570.5 190.0,570.5" stroke="#999" stroke-width="1" fill="none"/>
<text x="9.5" y="585" font-size="10.67" fill="#444" textLength="27" lengthAdjust="spacingAndGlyphs">niskie</text>
<polyline points="41.0,582.5 119.0,582.5" stroke="#444" stroke-width="1" fill="none"/>
<polyline points="130.0,582.5 135.0,582.5" stroke="#444" stroke-width="1" fill="none"/>
<text x="9.5" y="596.6" font-size="10.67" fill="#222" textLength="61.4" lengthAdjust="spacingAndGlyphs">bardzo niskie</text>
<polyline points="75.0,594.5 140.0,594.5 150.0,598.0" stroke="#222" stroke-width="1" fill="none"/>
<text x="5.5" y="608.7" font-size="10.67" fill="#ffb400" textLength="21" lengthAdjust="spacingAndGlyphs">Mgła</text>
<polyline points="30.0,605.5 216.0,605.5 219.0,598.0" stroke="#ffb400" stroke-width="1" fill="none"/>
<text x="157.8" y="614.5" font-size="10.67" fill="#000" textLength="12.4" lengthAdjust="spacingAndGlyphs">18</text>
<text x="197.6" y="614.5" font-size="10.67" fill="#000" textLength="12.4" lengthAdjust="spacingAndGlyphs">00</text>
<text x="239" y="614.5" font-size="10.67" fill="#000" textLength="12.4" lengthAdjust="spacingAndGlyphs">06</text>
<text x="5.5" y="625.4" font-size="11.2" fill="#000" textLength="132.5" lengthAdjust="spacingAndGlyphs">Czas uniwersalny (UTC)</text>
<polyline points="139.0,623.5 147.0,623.5 156.0,610.0" stroke="#000" stroke-width="1" fill="none"/>
<text x="5.3" y="651.2" font-size="9.5" fill="#000">*</text>
<text x="11" y="651.2" font-size="8.2" fill="#000" textLength="97" lengthAdjust="spacingAndGlyphs" font-weight="bold">powyżej poziomu morza</text>
<defs>
<linearGradient id="bg1" x1="0" y1="0" x2="1" y2="0">
<stop offset="0" stop-color="#0d49a1"/><stop offset="0.5" stop-color="#114fa8"/><stop offset="1" stop-color="#114da6"/>
</linearGradient>
<radialGradient id="sheen" gradientUnits="userSpaceOnUse" cx="0" cy="0" r="1" gradientTransform="translate(555 45) rotate(-20) scale(190 120)">
<stop offset="0" stop-color="#3d78c4" stop-opacity="0.9"/><stop offset="0.45" stop-color="#3a74c0" stop-opacity="0.6"/><stop offset="1" stop-color="#3a74c0" stop-opacity="0"/>
</radialGradient>
<radialGradient id="glow" gradientUnits="userSpaceOnUse" cx="715" cy="50" r="95">
<stop offset="0" stop-color="#3a78c6" stop-opacity="0.35"/><stop offset="1" stop-color="#3a78c6" stop-opacity="0"/>
</radialGradient>
<linearGradient id="metal" x1="0" y1="0" x2="1" y2="0">
<stop offset="0" stop-color="#6b6d6e"/><stop offset="0.06" stop-color="#1c1d1f"/><stop offset="0.94" stop-color="#1c1d1f"/><stop offset="1" stop-color="#5b5d5e"/>
</linearGradient>
<linearGradient id="navy" x1="0" y1="0" x2="0" y2="1">
<stop offset="0" stop-color="#0a1f47"/><stop offset="1" stop-color="#0d2a5c"/>
</linearGradient>
<clipPath id="bclip"><rect x="280" y="0" width="540" height="120"/></clipPath>
<clipPath id="s1"><rect x="555.6" y="7.6" width="48.6" height="130" rx="5"/></clipPath>
<clipPath id="s2"><rect x="617.4" y="25" width="47.4" height="110" rx="5"/></clipPath>
<clipPath id="s3"><rect x="587.6" y="50.8" width="48.6" height="90" rx="5"/></clipPath>
</defs>
<rect x="280" y="0" width="540" height="120" fill="url(#bg1)"/>
<rect x="280" y="0" width="540" height="120" fill="url(#sheen)"/>
<rect x="280" y="0" width="540" height="120" fill="url(#glow)"/>
<polygon points="760.0,0.0 820.0,0.0 820.0,22.0" fill="#0d46a0" opacity="0.6"/>
<g clip-path="url(#bclip)">
<rect x="551.6" y="4.2" width="56.2" height="136" rx="8" fill="url(#metal)" stroke="#4e5052" stroke-width="0.7"/>
<rect x="552.6" y="5.2" width="54.2" height="134" rx="7.2" fill="#0b0c0e"/>
<g clip-path="url(#s1)">
<rect x="554" y="7" width="52" height="54" fill="url(#navy)"/>
<rect x="554" y="61" width="52" height="70" fill="#0a0c10"/>
<path d="M554 30 q20 -14 40 0 t20 10 M554 42 q25 -12 45 4 M560 55 q14 -20 40 -8" stroke="#173a72" stroke-width="0.8" fill="none"/>
<rect x="560.5" y="21.5" width="36" height="9" rx="2.5" fill="#07122a"/>
<circle cx="601.5" cy="27.5" r="2.6" fill="#07122a"/><circle cx="601.5" cy="27.5" r="0.9" fill="#cfd6e4"/>
<rect x="565" y="23.5" width="1.5" height="1.5" fill="#a5b0c8"/>
<rect x="568" y="24" width="7" height="1.6" fill="#7f8cab"/>
<rect x="566" y="12.5" width="4" height="1.6" fill="#d5dbea"/>
<rect x="594" y="12.5" width="3" height="1.6" fill="#d5dbea"/>
<rect x="598.5" y="12" width="3.5" height="2.2" fill="#e5e9f3"/>
<path d="M573 42 q0 -3 3 -3 q1 -2 3.2 -1 q2.4 0 2.4 3 q0 1.6 -2 1.6 h-5 q-1.8 0 -1.6 -0.6z" fill="none" stroke="#c9d3e8" stroke-width="0.8"/>
<line x1="575.5" y1="45" x2="574.5" y2="47.5" stroke="#c9d3e8" stroke-width="0.7"/>
<line x1="578" y1="45" x2="577" y2="47.5" stroke="#c9d3e8" stroke-width="0.7"/>
<text x="582.8" y="46.2" font-size="8.6" fill="#fff" textLength="10" lengthAdjust="spacingAndGlyphs">2.5</text>
<text x="593" y="43" font-size="5.5" fill="#fff">°</text>
<rect x="571" y="52" width="7" height="4" fill="#14366e"/>
<rect x="580" y="52" width="7" height="4" fill="#14366e"/>
<rect x="561" y="64" width="9.5" height="23" fill="#14171d"/>
<rect x="571.5" y="64" width="9.5" height="23" fill="#14171d"/>
<rect x="582" y="64" width="5" height="23" fill="#14171d"/>
<rect x="563" y="66.5" width="4" height="1.4" fill="#c2c6cf"/>
<rect x="573.5" y="66.5" width="4.5" height="1.4" fill="#c2c6cf"/>
<circle cx="565.2" cy="74.0" r="1.5" fill="#1e4f9a"/>
<circle cx="575.8" cy="74.0" r="1.5" fill="#1e4f9a"/>
<rect x="563" y="81" width="3.5" height="1.8" fill="#9ea4b0"/>
<rect x="573.5" y="81" width="4" height="1.8" fill="#9ea4b0"/>
<rect x="561" y="89" width="26" height="9" fill="#14171d"/>
<rect x="562.5" y="92.5" width="15" height="1.7" fill="#b9bdc7"/>
<rect x="561" y="100" width="26" height="9" fill="#14171d"/>
<rect x="562.5" y="104" width="6" height="1.7" fill="#b9bdc7"/>
<circle cx="582.5" cy="105.0" r="1.6" fill="#1e4f9a"/>
<rect x="561" y="111" width="26" height="9" fill="#14171d"/>
<rect x="562.5" y="116" width="5" height="1.7" fill="#b9bdc7"/>
<circle cx="582.5" cy="117.5" r="1.6" fill="#1e4f9a"/>
</g>
<rect x="575.8" y="11.5" width="14" height="5.2" rx="2.6" fill="#030405"/>
<rect x="613.6" y="21.6" width="54.8" height="120" rx="8" fill="url(#metal)" stroke="#4e5052" stroke-width="0.7"/>
<rect x="614.6" y="22.6" width="52.8" height="118" rx="7.2" fill="#0b0c0e"/>
<g clip-path="url(#s2)">
<rect x="616" y="24" width="50" height="96" fill="#2c2f2d"/>
<path d="M617 26 h48 v22 q-10 6 -20 2 t-28 4z" fill="#454943"/>
<path d="M617 30 q8 4 14 0 q8 -4 16 2 q8 4 18 0 v6 q-10 4 -18 0 q-8 -4 -16 0 q-6 4 -14 0z" fill="#5a5e56"/>
<path d="M641 62 q6 -7 11 -3 q7 8 6 22 q4 12 -1 22 q-6 9 -11 -2 q-2 -12 -5 -19 q-4 -12 0 -20z" fill="#7f7963"/>
<path d="M646 72 q5 -4 8 3 q3 11 0 20 q-4 6 -6 -3 q-3 -10 -2 -20z" fill="#9a917a"/>
<path d="M650 96 q5 2 6 10 q-1 8 -6 8 q-4 -6 0 -18z" fill="#8d866f"/>
<path d="M618 60 q8 -3 14 2 q6 6 4 14 q-8 4 -18 -2z" fill="#202321"/>
<path d="M640 98 q-8 4 -10 12 q4 8 12 8z" fill="#1f2220"/>
<path d="M624 84 q6 -2 10 4 q2 8 -4 10 q-6 0 -8 -6z" fill="#3b3f3a"/>
<path d="M636 50 q6 2 8 8 q-4 4 -9 0z" fill="#4a4e47"/>
<path d="M622 50 q10 10 12 24 q4 16 14 30" stroke="#5c6f8a" stroke-width="0.7" fill="none"/>
<rect x="617.5" y="36.5" width="33.5" height="8.3" rx="2" fill="#c9cbca"/>
<rect x="620.5" y="41" width="1.5" height="1.5" fill="#555"/>
<rect x="623.5" y="41.2" width="6" height="1.5" fill="#777"/>
<circle cx="655.8" cy="39" r="2.8" fill="#e9e9e6"/><circle cx="655.8" cy="39" r="1.2" fill="#2c2f2d"/>
<rect x="628" y="28.5" width="1.6" height="2.6" fill="#b9d94a"/>
<rect x="657.5" y="62" width="1.6" height="2.6" fill="#b9d94a"/>
<rect x="660" y="88" width="1.6" height="2.6" fill="#b9d94a"/>
<rect x="646" y="104" width="1.6" height="2.6" fill="#b9d94a"/>
<rect x="657" y="44" width="1.6" height="2.6" fill="#b9d94a"/>
<rect x="650" y="29" width="2.2" height="1.6" fill="#d4d7d4"/>
<rect x="654" y="28.6" width="3.5" height="2.2" fill="#e4e6e4"/>
<rect x="620" y="31" width="5" height="1.5" fill="#9a9d9a"/>
<rect x="654" y="104" width="4.5" height="12" fill="#d8dad6"/>
<rect x="655" y="106" width="2.5" height="1.2" fill="#555"/>
<rect x="655" y="109" width="2.5" height="1.2" fill="#555"/>
<rect x="655" y="112" width="2.5" height="1.2" fill="#555"/>
</g>
<rect x="631.5" y="27.5" width="13.5" height="5" rx="2.5" fill="#030405"/>
<rect x="584.4" y="47.6" width="55.2" height="100" rx="8" fill="url(#metal)" stroke="#4e5052" stroke-width="0.7"/>
<rect x="585.4" y="48.6" width="53.2" height="98" rx="7.2" fill="#0b0c0e"/>
<g clip-path="url(#s3)">
<rect x="587" y="50" width="50" height="70" fill="#fdfdfd"/>
<rect x="588.3" y="61.3" width="35.5" height="7.6" rx="1.8" fill="#1d1f22"/>
<rect x="591" y="64.8" width="1.3" height="1.3" fill="#aaa"/>
<rect x="594" y="65" width="6" height="1.3" fill="#8e9196"/>
<circle cx="628.6" cy="63.8" r="2.7" fill="#1d1f22"/><circle cx="628.6" cy="63.8" r="1" fill="#d0d3d8"/>
<rect x="593" y="56" width="4" height="1.5" fill="#333"/>
<rect x="622" y="55.6" width="3" height="1.6" fill="#333"/>
<rect x="626" y="55.2" width="3.5" height="2.3" fill="#222"/>
<rect x="588.5" y="77" width="6" height="1.8" fill="#8da0e0"/>
<rect x="595" y="77" width="5" height="1.8" fill="#b9c3ea"/>
<rect x="622.5" y="76.2" width="7.5" height="1.2" fill="#8fa0dc"/>
<rect x="623.5" y="78.2" width="6.5" height="1.2" fill="#aab6e6"/>
<rect x="590.8" y="81.5" width="40" height="38.5" fill="#f3f4f4"/>
<g stroke="#cfd2d3" stroke-width="0.5">
<line x1="591.0" y1="81.5" x2="591.0" y2="120" stroke="#d9dcdd" stroke-width="0.5"/>
<line x1="594.6" y1="81.5" x2="594.6" y2="120" stroke="#d9dcdd" stroke-width="0.5"/>
<line x1="598.2" y1="81.5" x2="598.2" y2="120" stroke="#d9dcdd" stroke-width="0.5"/>
<line x1="601.8" y1="81.5" x2="601.8" y2="120" stroke="#d9dcdd" stroke-width="0.5"/>
<line x1="605.4" y1="81.5" x2="605.4" y2="120" stroke="#d9dcdd" stroke-width="0.5"/>
<line x1="609.0" y1="81.5" x2="609.0" y2="120" stroke="#d9dcdd" stroke-width="0.5"/>
<line x1="612.6" y1="81.5" x2="612.6" y2="120" stroke="#d9dcdd" stroke-width="0.5"/>
<line x1="616.2" y1="81.5" x2="616.2" y2="120" stroke="#d9dcdd" stroke-width="0.5"/>
<line x1="619.8" y1="81.5" x2="619.8" y2="120" stroke="#d9dcdd" stroke-width="0.5"/>
<line x1="623.4" y1="81.5" x2="623.4" y2="120" stroke="#d9dcdd" stroke-width="0.5"/>
<line x1="627.0" y1="81.5" x2="627.0" y2="120" stroke="#d9dcdd" stroke-width="0.5"/>
<line x1="630.6" y1="81.5" x2="630.6" y2="120" stroke="#d9dcdd" stroke-width="0.5"/>
<line x1="590.8" y1="84" x2="630.8" y2="84" stroke="#d9dcdd" stroke-width="0.5"/>
<line x1="590.8" y1="88" x2="630.8" y2="88" stroke="#d9dcdd" stroke-width="0.5"/>
<line x1="590.8" y1="92" x2="630.8" y2="92" stroke="#d9dcdd" stroke-width="0.5"/>
<line x1="590.8" y1="96" x2="630.8" y2="96" stroke="#d9dcdd" stroke-width="0.5"/>
<line x1="590.8" y1="100" x2="630.8" y2="100" stroke="#d9dcdd" stroke-width="0.5"/>
<line x1="590.8" y1="104" x2="630.8" y2="104" stroke="#d9dcdd" stroke-width="0.5"/>
<line x1="590.8" y1="108" x2="630.8" y2="108" stroke="#d9dcdd" stroke-width="0.5"/>
<line x1="590.8" y1="112" x2="630.8" y2="112" stroke="#d9dcdd" stroke-width="0.5"/>
<line x1="590.8" y1="116" x2="630.8" y2="116" stroke="#d9dcdd" stroke-width="0.5"/>
<line x1="590.8" y1="120" x2="630.8" y2="120" stroke="#d9dcdd" stroke-width="0.5"/>
</g>
<path d="M591 88.5 q4 -1.5 8 -0.8 t10 -1.2 t8 -1 t7 -0.6 l6.5 -0.8 v10 h-39.5z" fill="#3f9cc4"/>
<path d="M591 90.5 q6 -1 12 -0.5 t14 -1.5 t13.5 -1 v6.5 h-39.5z" fill="#6fc0dc"/>
<path d="M591 88.6 q4 -2.5 8 -1.6 t10 -1.2 t8 -1.4 t7 -0.9 l6.5 -0.9" fill="none" stroke="#d6303a" stroke-width="1"/>
<path d="M591 87 q6 -2 10 -1.4 t10 -1 t19 -3" fill="none" stroke="#3b4fc0" stroke-width="0.6"/>
<path d="M591 97.5 q2 6 3.4 8 q1.5 -1 3.6 -6 q3 -3.4 6 0 q3 5 6.5 7 q4 0.5 7 -3 q3.5 -4.6 6.5 -4 q3 0.8 6.6 3.6" fill="none" stroke="#e2826a" stroke-width="0.9"/>
<line x1="630" y1="82" x2="630" y2="120" stroke="#e8a090" stroke-width="0.7"/>
<rect x="615" y="104" width="1.6" height="3.2" fill="#6cc070"/>
<rect x="616.6" y="111" width="2" height="6" fill="#6cc070"/>
<rect x="614.8" y="113" width="1.4" height="4" fill="#8fd08f"/>
<rect x="628.2" y="104" width="1.4" height="2.6" fill="#6cc070"/>
</g>
<rect x="601.8" y="52.7" width="14.6" height="5.2" rx="2.6" fill="#030405"/>
</g>
<text x="293" y="40.3" font-size="18.6" fill="#ffffff" textLength="155.5" lengthAdjust="spacingAndGlyphs">Oficjalna aplikacja</text>
<text x="293" y="66.6" font-size="18.6" fill="#ffffff" textLength="99" lengthAdjust="spacingAndGlyphs" font-weight="bold">Meteo ICM</text>
<text x="399" y="66.6" font-size="18.6" fill="#ffffff" textLength="103" lengthAdjust="spacingAndGlyphs">do pobrania</text>
<text x="293" y="95" font-size="18.6" fill="#ffffff" textLength="223.5" lengthAdjust="spacingAndGlyphs">w Google Play i App Store</text>
<path d="M715.4 80.9 C709 74.5 700.5 78 698.2 93 C697.4 101.5 703.5 104.5 708.7 99.3 C705 102 701 100.5 700.4 93.6 C701.5 81.5 708.7 77 715.4 80.9Z" fill="#fff"/>
<text x="708.4" y="95.2" font-size="18.6" font-weight="bold" fill="#fff" textLength="74" lengthAdjust="spacingAndGlyphs">icmmeteo</text>
<rect x="787.1" y="80.6" width="21" height="21" rx="1.6" fill="#fff"/>
<text x="789.3" y="95.8" font-size="12" fill="#1a56ae" textLength="10.2" lengthAdjust="spacingAndGlyphs" font-weight="bold">M</text>
<text x="799.8" y="95.3" font-size="12.5" fill="#1a56ae" font-weight="bold">°</text>
<rect x="280" y="120" width="540" height="540" fill="#fefefb"/>
<text x="282" y="132.6" font-size="12.6" fill="#00008b" textLength="147" lengthAdjust="spacingAndGlyphs">wschód słońca: 07:16 CET</text>
<text x="284" y="145.7" font-size="12.6" fill="#00008b" textLength="143" lengthAdjust="spacingAndGlyphs">zachód słońca: 16:24 CET</text>
<text x="550" y="132.6" font-size="12.6" fill="#00008b" text-anchor="middle" textLength="129" lengthAdjust="spacingAndGlyphs">20°54'43"E, 53°32'29"N</text>
<text x="550" y="145.7" font-size="12.6" fill="#00008b" text-anchor="middle" textLength="84" lengthAdjust="spacingAndGlyphs">(x=248, y=368)</text>
<text x="659.3" y="132.6" font-size="12.6" fill="#00008b" textLength="158" lengthAdjust="spacingAndGlyphs">wysokość (min, środek, max)</text>
<text x="691" y="145.7" font-size="12.6" fill="#00008b" textLength="95.5" lengthAdjust="spacingAndGlyphs">141 - 155 - 180 m</text>
<rect x="401" y="149" width="105" height="511" fill="#ebebeb"/>
<rect x="570" y="149" width="105" height="511" fill="#ebebeb"/>
<rect x="739" y="149" width="19" height="511" fill="#ebebeb"/>
<text x="350" y="162" font-size="12.3" fill="#000" textLength="56.4" lengthAdjust="spacingAndGlyphs">śro, 04.02</text>
<text x="515" y="162" font-size="12.3" fill="#000" textLength="62" lengthAdjust="spacingAndGlyphs">czw, 05.02</text>
<text x="687.8" y="162" font-size="12.3" fill="#000" textLength="55.4" lengthAdjust="spacingAndGlyphs">pią, 06.02</text>
<text x="306.8" y="174.6" font-size="12.3" fill="#000" textLength="24.2" lengthAdjust="spacingAndGlyphs">CET</text>
<text x="769.5" y="174.6" font-size="12.3" fill="#000" textLength="24.2" lengthAdjust="spacingAndGlyphs">CET</text>
<text x="356.7" y="174.6" font-size="12.3" fill="#000" text-anchor="middle" textLength="13.6" lengthAdjust="spacingAndGlyphs">10</text>
<text x="398.84" y="174.6" font-size="12.3" fill="#000" text-anchor="middle" textLength="13.6" lengthAdjust="spacingAndGlyphs">16</text>
<text x="440.98" y="174.6" font-size="12.3" fill="#000" text-anchor="middle" textLength="13.6" lengthAdjust="spacingAndGlyphs">22</text>
<text x="483.12" y="174.6" font-size="12.3" fill="#000" text-anchor="middle" textLength="13.6" lengthAdjust="spacingAndGlyphs">04</text>
<text x="525.26" y="174.6" font-size="12.3" fill="#000" text-anchor="middle" textLength="13.6" lengthAdjust="spacingAndGlyphs">10</text>
<text x="567.4" y="174.6" font-size="12.3" fill="#000" text-anchor="middle" textLength="13.6" lengthAdjust="spacingAndGlyphs">16</text>
<text x="609.54" y="174.6" font-size="12.3" fill="#000" text-anchor="middle" textLength="13.6" lengthAdjust="spacingAndGlyphs">22</text>
<text x="651.6800000000001" y="174.6" font-size="12.3" fill="#000" text-anchor="middle" textLength="13.6" lengthAdjust="spacingAndGlyphs">04</text>
<text x="693.8199999999999" y="174.6" font-size="12.3" fill="#000" text-anchor="middle" textLength="13.6" lengthAdjust="spacingAndGlyphs">10</text>
<text x="735.96" y="174.6" font-size="12.3" fill="#000" text-anchor="middle" textLength="13.6" lengthAdjust="spacingAndGlyphs">16</text>
<rect x="342" y="177" width="415" height="78" fill="#87d4fd"/>
<rect x="401" y="177" width="105" height="78" fill="#80c3ee"/>
<rect x="570" y="177" width="105" height="78" fill="#80c3ee"/>
<rect x="739" y="177" width="18" height="78" fill="#80c3ee"/>
<path d="M419.5 177V255M441.5 177V255M462.5 177V255M483.5 177V255M504.5 177V255M401 192.5H506M401 209.5H506M401 227.5H506M401 244.5H506M588.5 177V255M610.5 177V255M631.5 177V255M652.5 177V255M673.5 177V255M570 192.5H675M570 209.5H675M570 227.5H675M570 244.5H675M739 192.5H757M739 209.5H757M739 227.5H757M739 244.5H757" stroke="#87d4fd" stroke-width="1" fill="none" shape-rendering="crispEdges"/>
<polyline points="342.8,249.1 349.6,242.7 356.5,237.4 363.3,233.9 370.1,232.3 377.5,229.0 387.7,226.1 398.8,224.1 419.9,222.2 441.3,219.3 462.4,218.3 475.5,215.9 490.0,216.3 505.6,214.0 525.1,209.9 546.6,208.5 568.0,207.2 587.6,205.6 609.0,203.1 630.5,201.9 650.0,202.7 680.0,201.5 700.0,199.7 720.0,198.5 735.0,197.9 757.5,200.0" stroke="#b4e1fb" stroke-width="5.5" fill="none"/>
<polyline points="342.8,222.2 349.6,216.4 356.5,211.1 363.3,209.1 370.1,208.0 377.5,205.6 391.6,203.7 413.0,201.7 441.3,199.4 461.8,197.4 471.6,195.9 490.0,195.5 505.6,193.9 525.1,190.0 546.6,189.4 568.0,189.2 587.6,187.7 609.0,185.3 630.5,184.7 650.0,185.3 700.0,185.5 730.0,185.0 757.5,187.0" stroke="#ffc8c8" stroke-width="5.5" fill="none"/>
<g stroke="#000" stroke-width="1" stroke-dasharray="2,2" shape-rendering="crispEdges">
<line x1="356.5" y1="177" x2="356.5" y2="255"/>
<line x1="377.5" y1="177" x2="377.5" y2="255"/>
<line x1="398.5" y1="177" x2="398.5" y2="255"/>
<line x1="419.5" y1="177" x2="419.5" y2="255"/>
<line x1="441.5" y1="177" x2="441.5" y2="255"/>
<line x1="462.5" y1="177" x2="462.5" y2="255"/>
<line x1="483.5" y1="177" x2="483.5" y2="255"/>
<line x1="504.5" y1="177" x2="504.5" y2="255"/>
<line x1="525.5" y1="177" x2="525.5" y2="255"/>
<line x1="546.5" y1="177" x2="546.5" y2="255"/>
<line x1="567.5" y1="177" x2="567.5" y2="255"/>
<line x1="588.5" y1="177" x2="588.5" y2="255"/>
<line x1="610.5" y1="177" x2="610.5" y2="255"/>
<line x1="631.5" y1="177" x2="631.5" y2="255"/>
<line x1="652.5" y1="177" x2="652.5" y2="255"/>
<line x1="673.5" y1="177" x2="673.5" y2="255"/>
<line x1="694.5" y1="177" x2="694.5" y2="255"/>
<line x1="715.5" y1="177" x2="715.5" y2="255"/>
<line x1="736.5" y1="177" x2="736.5" y2="255"/>
<line x1="342" y1="192.5" x2="757" y2="192.5"/>
<line x1="342" y1="209.5" x2="757" y2="209.5"/>
<line x1="342" y1="227.5" x2="757" y2="227.5"/>
<line x1="342" y1="244.5" x2="757" y2="244.5"/>
</g>
<circle cx="342.4" cy="238.7" r="1.9" fill="#6a5acd"/>
<circle cx="349.4" cy="236.3" r="1.9" fill="#6a5acd"/>
<circle cx="356.5" cy="228.9" r="1.9" fill="#6a5acd"/>
<circle cx="363.5" cy="222.3" r="1.9" fill="#6a5acd"/>
<circle cx="370.6" cy="215.3" r="1.9" fill="#6a5acd"/>
<circle cx="377.6" cy="215.9" r="1.9" fill="#6a5acd"/>
<circle cx="384.7" cy="212.0" r="1.9" fill="#6a5acd"/>
<circle cx="391.7" cy="211.4" r="1.9" fill="#6a5acd"/>
<circle cx="398.8" cy="210.0" r="1.9" fill="#6a5acd"/>
<circle cx="405.8" cy="207.4" r="1.9" fill="#6a5acd"/>
<circle cx="412.8" cy="206.7" r="1.9" fill="#6a5acd"/>
<circle cx="419.9" cy="206.1" r="1.9" fill="#6a5acd"/>
<circle cx="426.9" cy="205.6" r="1.9" fill="#6a5acd"/>
<circle cx="434.0" cy="205.0" r="1.9" fill="#6a5acd"/>
<circle cx="441.0" cy="204.4" r="1.9" fill="#6a5acd"/>
<circle cx="448.1" cy="203.7" r="1.9" fill="#6a5acd"/>
<circle cx="455.1" cy="203.1" r="1.9" fill="#6a5acd"/>
<circle cx="462.2" cy="202.3" r="1.9" fill="#6a5acd"/>
<circle cx="469.2" cy="201.3" r="1.9" fill="#6a5acd"/>
<circle cx="476.3" cy="200.8" r="1.9" fill="#6a5acd"/>
<circle cx="483.3" cy="200.6" r="1.9" fill="#6a5acd"/>
<circle cx="490.3" cy="200.5" r="1.9" fill="#6a5acd"/>
<circle cx="497.4" cy="199.7" r="1.9" fill="#6a5acd"/>
<circle cx="504.4" cy="199.0" r="1.9" fill="#6a5acd"/>
<circle cx="511.5" cy="197.7" r="1.9" fill="#6a5acd"/>
<circle cx="518.5" cy="196.3" r="1.9" fill="#6a5acd"/>
<circle cx="525.6" cy="195.0" r="1.9" fill="#6a5acd"/>
<circle cx="532.6" cy="194.8" r="1.9" fill="#6a5acd"/>
<circle cx="539.7" cy="194.6" r="1.9" fill="#6a5acd"/>
<circle cx="546.7" cy="194.4" r="1.9" fill="#6a5acd"/>
<circle cx="553.8" cy="192.3" r="1.9" fill="#6a5acd"/>
<circle cx="560.8" cy="192.3" r="1.9" fill="#6a5acd"/>
<circle cx="567.8" cy="192.2" r="1.9" fill="#6a5acd"/>
<circle cx="574.9" cy="191.7" r="1.9" fill="#6a5acd"/>
<circle cx="581.9" cy="191.1" r="1.9" fill="#6a5acd"/>
<circle cx="589.0" cy="190.5" r="1.9" fill="#6a5acd"/>
<circle cx="596.0" cy="189.8" r="1.9" fill="#6a5acd"/>
<circle cx="603.1" cy="189.0" r="1.9" fill="#6a5acd"/>
<circle cx="610.1" cy="188.3" r="1.9" fill="#6a5acd"/>
<circle cx="617.2" cy="188.1" r="1.9" fill="#6a5acd"/>
<circle cx="624.2" cy="187.9" r="1.9" fill="#6a5acd"/>
<circle cx="631.2" cy="187.7" r="1.9" fill="#6a5acd"/>
<circle cx="638.3" cy="187.9" r="1.9" fill="#6a5acd"/>
<circle cx="645.3" cy="188.2" r="1.9" fill="#6a5acd"/>
<circle cx="652.4" cy="188.3" r="1.9" fill="#6a5acd"/>
<circle cx="659.4" cy="188.3" r="1.9" fill="#6a5acd"/>
<circle cx="666.5" cy="188.4" r="1.9" fill="#6a5acd"/>
<circle cx="673.5" cy="188.4" r="1.9" fill="#6a5acd"/>
<circle cx="680.6" cy="188.4" r="1.9" fill="#6a5acd"/>
<circle cx="687.6" cy="188.5" r="1.9" fill="#6a5acd"/>
<circle cx="694.6" cy="188.5" r="1.9" fill="#6a5acd"/>
<circle cx="701.7" cy="188.5" r="1.9" fill="#6a5acd"/>
<circle cx="708.7" cy="188.4" r="1.9" fill="#6a5acd"/>
<circle cx="715.8" cy="188.2" r="1.9" fill="#6a5acd"/>
<circle cx="722.8" cy="188.1" r="1.9" fill="#6a5acd"/>
<circle cx="729.9" cy="188.0" r="1.9" fill="#6a5acd"/>
<circle cx="736.9" cy="188.5" r="1.9" fill="#6a5acd"/>
<circle cx="744.0" cy="189.0" r="1.9" fill="#6a5acd"/>
<circle cx="751.0" cy="189.5" r="1.9" fill="#6a5acd"/>
<line x1="349.5" y1="213.48529411764707" x2="349.5" y2="225.98529411764707" stroke="#b22222" stroke-width="1"/>
<line x1="356.5" y1="208.1" x2="356.5" y2="220.6" stroke="#b22222" stroke-width="1"/>
<line x1="363.5" y1="206.06764705882352" x2="363.5" y2="218.56764705882352" stroke="#b22222" stroke-width="1"/>
<line x1="370.5" y1="204.87027027027028" x2="370.5" y2="217.37027027027028" stroke="#b22222" stroke-width="1"/>
<line x1="377.5" y1="202.6" x2="377.5" y2="215.1" stroke="#b22222" stroke-width="1"/>
<line x1="384.5" y1="201.65673758865248" x2="384.5" y2="214.15673758865248" stroke="#b22222" stroke-width="1"/>
<line x1="391.5" y1="200.71347517730496" x2="391.5" y2="213.21347517730496" stroke="#b22222" stroke-width="1"/>
<line x1="398.5" y1="200.05514018691588" x2="398.5" y2="212.55514018691588" stroke="#b22222" stroke-width="1"/>
<line x1="405.5" y1="199.40093457943925" x2="405.5" y2="211.90093457943925" stroke="#b22222" stroke-width="1"/>
<line x1="412.5" y1="198.7467289719626" x2="412.5" y2="211.2467289719626" stroke="#b22222" stroke-width="1"/>
<line x1="419.5" y1="198.17173144876324" x2="419.5" y2="210.67173144876324" stroke="#b22222" stroke-width="1"/>
<line x1="426.5" y1="197.60282685512368" x2="426.5" y2="210.10282685512368" stroke="#b22222" stroke-width="1"/>
<line x1="433.5" y1="197.0339222614841" x2="433.5" y2="209.5339222614841" stroke="#b22222" stroke-width="1"/>
<line x1="441.5" y1="196.38048780487804" x2="441.5" y2="208.88048780487804" stroke="#b22222" stroke-width="1"/>
<line x1="448.5" y1="195.69756097560978" x2="448.5" y2="208.19756097560978" stroke="#b22222" stroke-width="1"/>
<line x1="455.5" y1="195.01463414634148" x2="455.5" y2="207.51463414634148" stroke="#b22222" stroke-width="1"/>
<line x1="462.5" y1="194.29285714285714" x2="462.5" y2="206.79285714285714" stroke="#b22222" stroke-width="1"/>
<line x1="469.5" y1="193.2214285714286" x2="469.5" y2="205.7214285714286" stroke="#b22222" stroke-width="1"/>
<line x1="476.5" y1="192.79347826086956" x2="476.5" y2="205.29347826086956" stroke="#b22222" stroke-width="1"/>
<line x1="483.5" y1="192.6413043478261" x2="483.5" y2="205.1413043478261" stroke="#b22222" stroke-width="1"/>
<line x1="490.5" y1="192.44871794871796" x2="490.5" y2="204.94871794871796" stroke="#b22222" stroke-width="1"/>
<line x1="497.5" y1="191.73076923076923" x2="497.5" y2="204.23076923076923" stroke="#b22222" stroke-width="1"/>
<line x1="504.5" y1="191.01282051282053" x2="504.5" y2="203.51282051282053" stroke="#b22222" stroke-width="1"/>
<line x1="511.5" y1="189.72" x2="511.5" y2="202.22" stroke="#b22222" stroke-width="1"/>
<line x1="518.5" y1="188.32" x2="518.5" y2="200.82" stroke="#b22222" stroke-width="1"/>
<line x1="525.5" y1="186.98883720930232" x2="525.5" y2="199.48883720930232" stroke="#b22222" stroke-width="1"/>
<line x1="532.5" y1="186.79348837209304" x2="532.5" y2="199.29348837209304" stroke="#b22222" stroke-width="1"/>
<line x1="539.5" y1="186.59813953488373" x2="539.5" y2="199.09813953488373" stroke="#b22222" stroke-width="1"/>
<line x1="546.5" y1="186.40279069767442" x2="546.5" y2="198.90279069767442" stroke="#b22222" stroke-width="1"/>
<line x1="553.5" y1="186.33551401869158" x2="553.5" y2="198.83551401869158" stroke="#b22222" stroke-width="1"/>
<line x1="560.5" y1="186.27009345794391" x2="560.5" y2="198.77009345794391" stroke="#b22222" stroke-width="1"/>
<line x1="567.5" y1="186.20467289719625" x2="567.5" y2="198.70467289719625" stroke="#b22222" stroke-width="1"/>
<line x1="574.5" y1="185.70255102040815" x2="574.5" y2="198.20255102040815" stroke="#b22222" stroke-width="1"/>
<line x1="581.5" y1="185.16683673469387" x2="581.5" y2="197.66683673469387" stroke="#b22222" stroke-width="1"/>
<line x1="588.5" y1="184.59906542056075" x2="588.5" y2="197.09906542056075" stroke="#b22222" stroke-width="1"/>
<line x1="596.5" y1="183.7018691588785" x2="596.5" y2="196.2018691588785" stroke="#b22222" stroke-width="1"/>
<line x1="603.5" y1="182.91682242990655" x2="603.5" y2="195.41682242990655" stroke="#b22222" stroke-width="1"/>
<line x1="610.5" y1="182.25813953488372" x2="610.5" y2="194.75813953488372" stroke="#b22222" stroke-width="1"/>
<line x1="617.5" y1="182.06279069767442" x2="617.5" y2="194.56279069767442" stroke="#b22222" stroke-width="1"/>
<line x1="624.5" y1="181.8674418604651" x2="624.5" y2="194.3674418604651" stroke="#b22222" stroke-width="1"/>
<line x1="631.5" y1="181.73076923076923" x2="631.5" y2="194.23076923076923" stroke="#b22222" stroke-width="1"/>
<line x1="638.5" y1="181.94615384615383" x2="638.5" y2="194.44615384615383" stroke="#b22222" stroke-width="1"/>
<line x1="645.5" y1="182.16153846153847" x2="645.5" y2="194.66153846153847" stroke="#b22222" stroke-width="1"/>
<line x1="652.5" y1="182.31" x2="652.5" y2="194.81" stroke="#b22222" stroke-width="1"/>
<line x1="659.5" y1="182.33800000000002" x2="659.5" y2="194.83800000000002" stroke="#b22222" stroke-width="1"/>
<line x1="666.5" y1="182.366" x2="666.5" y2="194.866" stroke="#b22222" stroke-width="1"/>
<line x1="673.5" y1="182.394" x2="673.5" y2="194.894" stroke="#b22222" stroke-width="1"/>
<line x1="680.5" y1="182.422" x2="680.5" y2="194.922" stroke="#b22222" stroke-width="1"/>
<line x1="687.5" y1="182.45" x2="687.5" y2="194.95" stroke="#b22222" stroke-width="1"/>
<line x1="694.5" y1="182.478" x2="694.5" y2="194.978" stroke="#b22222" stroke-width="1"/>
<line x1="701.5" y1="182.475" x2="701.5" y2="194.975" stroke="#b22222" stroke-width="1"/>
<line x1="708.5" y1="182.35833333333332" x2="708.5" y2="194.85833333333332" stroke="#b22222" stroke-width="1"/>
<line x1="715.5" y1="182.24166666666667" x2="715.5" y2="194.74166666666667" stroke="#b22222" stroke-width="1"/>
<line x1="722.5" y1="182.125" x2="722.5" y2="194.625" stroke="#b22222" stroke-width="1"/>
<line x1="729.5" y1="182.00833333333333" x2="729.5" y2="194.50833333333333" stroke="#b22222" stroke-width="1"/>
<line x1="736.5" y1="182.47272727272727" x2="736.5" y2="194.97272727272727" stroke="#b22222" stroke-width="1"/>
<line x1="743.5" y1="182.98181818181817" x2="743.5" y2="195.48181818181817" stroke="#b22222" stroke-width="1"/>
<line x1="751.5" y1="183.56363636363636" x2="751.5" y2="196.06363636363636" stroke="#b22222" stroke-width="1"/>
<polyline points="342.8,249.6 349.6,243.2 356.5,237.9 363.3,234.4 370.1,232.8 377.5,229.5 387.7,226.6 398.8,224.6 419.9,222.7 441.3,219.8 462.4,218.8 475.5,216.4 490.0,216.8 505.6,214.5 525.1,210.4 546.6,209.0 568.0,207.7 587.6,206.1 609.0,203.6 630.5,202.4 650.0,203.2 680.0,202.0 700.0,200.2 720.0,199.0 735.0,198.4 757.5,200.5" stroke="#0000f0" stroke-width="2.1" fill="none"/>
<polyline points="342.8,221.7 349.6,215.9 356.5,210.6 363.3,208.6 370.1,207.5 377.5,205.1 391.6,203.2 413.0,201.2 441.3,198.9 461.8,196.9 471.6,195.4 490.0,195.0 505.6,193.4 525.1,189.5 546.6,188.9 568.0,188.7 587.6,187.2 609.0,184.8 630.5,184.2 650.0,184.8 700.0,185.0 730.0,184.5 757.5,186.5" stroke="#ff0000" stroke-width="2.2" fill="none"/>
<rect x="342.5" y="177.5" width="415" height="78" fill="none" stroke="#000" stroke-width="1" shape-rendering="crispEdges"/>
<text x="337.6" y="195.8" font-size="11.6" fill="#000" text-anchor="end">-5</text>
<text x="769.6" y="195.7" font-size="10.67" fill="#000" text-anchor="middle">-5</text>
<text x="337.6" y="213.10000000000002" font-size="11.6" fill="#000" text-anchor="end">-10</text>
<text x="769.6" y="213.0" font-size="10.67" fill="#000" text-anchor="middle">-10</text>
<text x="337.6" y="230.60000000000002" font-size="11.6" fill="#000" text-anchor="end">-15</text>
<text x="769.6" y="230.5" font-size="10.67" fill="#000" text-anchor="middle">-15</text>
<text x="337.6" y="248.0" font-size="11.6" fill="#000" text-anchor="end">-20</text>
<text x="769.6" y="247.89999999999998" font-size="10.67" fill="#000" text-anchor="middle">-20</text>
<text transform="translate(292.7,216.3) rotate(-90)" font-size="12.3" fill="#00008b" text-anchor="middle" textLength="66" lengthAdjust="spacingAndGlyphs">temperatura</text>
<text transform="translate(305.9,218.3) rotate(-90)" font-size="12.3" fill="#00008b" text-anchor="middle">(°C)</text>
<text transform="translate(802.5,217.3) rotate(-90)" font-size="12.3" fill="#00008b" text-anchor="middle">(°C)</text>
<text transform="translate(816,216.3) rotate(-90)" font-size="12.3" fill="#00008b" text-anchor="middle" textLength="66" lengthAdjust="spacingAndGlyphs">temperatura</text>
<rect x="342" y="264" width="415" height="77" fill="#fff"/>
<rect x="401" y="264" width="105" height="77" fill="#ebebeb"/>
<rect x="570" y="264" width="105" height="77" fill="#ebebeb"/>
<rect x="739" y="264" width="18" height="77" fill="#ebebeb"/>
<path d="M419.5 264V341M441.5 264V341M462.5 264V341M483.5 264V341M504.5 264V341M401 266.5H506M401 281.5H506M401 296.5H506M401 311.5H506M401 326.5H506M588.5 264V341M610.5 264V341M631.5 264V341M652.5 264V341M673.5 264V341M570 266.5H675M570 281.5H675M570 296.5H675M570 311.5H675M570 326.5H675M739 266.5H757M739 281.5H757M739 296.5H757M739 311.5H757M739 326.5H757" stroke="#fff" stroke-width="1" fill="none" shape-rendering="crispEdges"/>
<line x1="527.5" y1="341" x2="527.5" y2="335" stroke="#00b000" stroke-width="1"/>
<line x1="534.5" y1="341" x2="534.5" y2="335" stroke="#00b000" stroke-width="1"/>
<line x1="541.5" y1="341" x2="541.5" y2="336" stroke="#00b000" stroke-width="1"/>
<line x1="555.5" y1="341" x2="555.5" y2="337" stroke="#00b000" stroke-width="1"/>
<line x1="562.5" y1="341" x2="562.5" y2="337" stroke="#00b000" stroke-width="1"/>
<line x1="569.5" y1="341" x2="569.5" y2="333" stroke="#00b000" stroke-width="1"/>
<line x1="576.5" y1="341" x2="576.5" y2="331" stroke="#00b000" stroke-width="1"/>
<line x1="583.5" y1="341" x2="583.5" y2="322" stroke="#00b000" stroke-width="1"/>
<line x1="590.5" y1="341" x2="590.5" y2="327" stroke="#00b000" stroke-width="1"/>
<line x1="598.5" y1="341" x2="598.5" y2="329" stroke="#00b000" stroke-width="1"/>
<line x1="605.5" y1="341" x2="605.5" y2="330" stroke="#00b000" stroke-width="1"/>
<line x1="612.5" y1="341" x2="612.5" y2="334.5" stroke="#00b000" stroke-width="1"/>
<line x1="619.5" y1="341" x2="619.5" y2="336" stroke="#00b000" stroke-width="1"/>
<line x1="626.5" y1="341" x2="626.5" y2="336" stroke="#00b000" stroke-width="1"/>
<line x1="633.5" y1="341" x2="633.5" y2="335" stroke="#00b000" stroke-width="1"/>
<line x1="640.5" y1="341" x2="640.5" y2="336" stroke="#00b000" stroke-width="1"/>
<line x1="647.5" y1="341" x2="647.5" y2="335" stroke="#00b000" stroke-width="1"/>
<line x1="654.5" y1="341" x2="654.5" y2="334.5" stroke="#00b000" stroke-width="1"/>
<line x1="661.5" y1="341" x2="661.5" y2="339.5" stroke="#00b000" stroke-width="1"/>
<line x1="668.5" y1="341" x2="668.5" y2="340" stroke="#00b000" stroke-width="1"/>
<line x1="689.5" y1="341" x2="689.5" y2="340" stroke="#00b000" stroke-width="1"/>
<line x1="696.5" y1="341" x2="696.5" y2="338" stroke="#00b000" stroke-width="1"/>
<line x1="703.5" y1="341" x2="703.5" y2="334.5" stroke="#00b000" stroke-width="1"/>
<line x1="710.5" y1="341" x2="710.5" y2="331" stroke="#00b000" stroke-width="1"/>
<line x1="717.5" y1="341" x2="717.5" y2="328" stroke="#00b000" stroke-width="1"/>
<line x1="724.5" y1="341" x2="724.5" y2="323" stroke="#00b000" stroke-width="1"/>
<line x1="731.5" y1="341" x2="731.5" y2="318" stroke="#00b000" stroke-width="1"/>
<line x1="738.5" y1="341" x2="738.5" y2="329.5" stroke="#00b000" stroke-width="1"/>
<line x1="745.5" y1="341" x2="745.5" y2="326" stroke="#00b000" stroke-width="1"/>
<line x1="753.5" y1="341" x2="753.5" y2="328" stroke="#00b000" stroke-width="1"/>
<rect x="568" y="339" width="35" height="2" fill="#00b000"/>
<rect x="716" y="339" width="42" height="2" fill="#00b000"/>
<rect x="500" y="340.2" width="257" height="0.8" fill="#30b830" opacity="0.6"/>
<line x1="739.5" y1="341" x2="739.5" y2="331" stroke="#1030d0" stroke-width="1"/>
<line x1="746.5" y1="341" x2="746.5" y2="335" stroke="#1030d0" stroke-width="1"/>
<line x1="360.5" y1="341" x2="360.5" y2="338" stroke="#1030d0" stroke-width="1"/>
<line x1="367.5" y1="341" x2="367.5" y2="337" stroke="#1030d0" stroke-width="1"/>
<line x1="388.5" y1="341" x2="388.5" y2="338" stroke="#1030d0" stroke-width="1"/>
<line x1="395.5" y1="341" x2="395.5" y2="337" stroke="#1030d0" stroke-width="1"/>
<line x1="402.5" y1="341" x2="402.5" y2="335" stroke="#1030d0" stroke-width="1"/>
<line x1="409.5" y1="341" x2="409.5" y2="338" stroke="#1030d0" stroke-width="1"/>
<line x1="415.5" y1="341" x2="415.5" y2="338" stroke="#1030d0" stroke-width="1"/>
<line x1="418.5" y1="341" x2="418.5" y2="339" stroke="#1030d0" stroke-width="1"/>
<line x1="430.5" y1="341" x2="430.5" y2="339" stroke="#1030d0" stroke-width="1"/>
<line x1="437.5" y1="341" x2="437.5" y2="338" stroke="#1030d0" stroke-width="1"/>
<line x1="443.5" y1="341" x2="443.5" y2="339" stroke="#1030d0" stroke-width="1"/>
<line x1="459.5" y1="341" x2="459.5" y2="338" stroke="#1030d0" stroke-width="1"/>
<line x1="466.5" y1="341" x2="466.5" y2="339" stroke="#1030d0" stroke-width="1"/>
<rect x="402" y="339.6" width="16" height="1.4" fill="#1030d0"/>
<line x1="522.5" y1="341" x2="522.5" y2="337" stroke="#1030d0" stroke-width="1"/>
<line x1="529.5" y1="341" x2="529.5" y2="335" stroke="#1030d0" stroke-width="1"/>
<line x1="536.5" y1="341" x2="536.5" y2="331" stroke="#1030d0" stroke-width="1"/>
<line x1="543.5" y1="341" x2="543.5" y2="336" stroke="#1030d0" stroke-width="1"/>
<line x1="550.5" y1="341" x2="550.5" y2="336" stroke="#1030d0" stroke-width="1"/>
<line x1="578.5" y1="341" x2="578.5" y2="336" stroke="#1030d0" stroke-width="1"/>
<rect x="526" y="339.6" width="20" height="1.4" fill="#1030d0"/>
<g stroke="#000" stroke-width="1" stroke-dasharray="2,2" shape-rendering="crispEdges">
<line x1="356.5" y1="264" x2="356.5" y2="341"/>
<line x1="377.5" y1="264" x2="377.5" y2="341"/>
<line x1="398.5" y1="264" x2="398.5" y2="341"/>
<line x1="419.5" y1="264" x2="419.5" y2="341"/>
<line x1="441.5" y1="264" x2="441.5" y2="341"/>
<line x1="462.5" y1="264" x2="462.5" y2="341"/>
<line x1="483.5" y1="264" x2="483.5" y2="341"/>
<line x1="504.5" y1="264" x2="504.5" y2="341"/>
<line x1="525.5" y1="264" x2="525.5" y2="341"/>
<line x1="546.5" y1="264" x2="546.5" y2="341"/>
<line x1="567.5" y1="264" x2="567.5" y2="341"/>
<line x1="588.5" y1="264" x2="588.5" y2="341"/>
<line x1="610.5" y1="264" x2="610.5" y2="341"/>
<line x1="631.5" y1="264" x2="631.5" y2="341"/>
<line x1="652.5" y1="264" x2="652.5" y2="341"/>
<line x1="673.5" y1="264" x2="673.5" y2="341"/>
<line x1="694.5" y1="264" x2="694.5" y2="341"/>
<line x1="715.5" y1="264" x2="715.5" y2="341"/>
<line x1="736.5" y1="264" x2="736.5" y2="341"/>
<line x1="342" y1="266.5" x2="757" y2="266.5"/>
<line x1="342" y1="281.5" x2="757" y2="281.5"/>
<line x1="342" y1="296.5" x2="757" y2="296.5"/>
<line x1="342" y1="311.5" x2="757" y2="311.5"/>
<line x1="342" y1="326.5" x2="757" y2="326.5"/>
</g>
<polyline points="342.4,316.1 349.3,319.4 356.5,313.1 363.9,306.1 370.1,294.0 377.6,294.6 385.4,291.1 392.2,291.1 399.0,289.5 405.9,287.8 412.7,285.2 419.5,285.2 426.3,282.7 430.0,284.3 434.9,287.2 441.0,287.4 454.4,285.5 461.7,281.3 469.0,283.5 483.7,283.8 495.9,281.3 505.6,280.1 525.1,279.4 532.4,279.9 539.3,277.4 547.1,279.9 554.4,279.9 569.0,275.7 588.5,273.3 610.5,270.9 632.0,270.5 655.0,271.0 675.0,271.0 685.0,273.0 695.0,275.0 715.0,276.5 728.0,277.0 745.0,275.5 757.5,275.0" stroke="#e8501e" stroke-width="2.4" fill="none"/>
<rect x="342.5" y="264.5" width="415" height="77" fill="none" stroke="#000" stroke-width="1" shape-rendering="crispEdges"/>
<text x="337.6" y="270.2" font-size="11.6" fill="#000" text-anchor="end">5</text>
<text x="337.6" y="285.5" font-size="11.6" fill="#000" text-anchor="end">4</text>
<text x="337.6" y="300.7" font-size="11.6" fill="#000" text-anchor="end">3</text>
<text x="337.6" y="315.8" font-size="11.6" fill="#000" text-anchor="end">2</text>
<text x="337.6" y="330.8" font-size="11.6" fill="#000" text-anchor="end">1</text>
<text x="337.6" y="345.2" font-size="11.6" fill="#000" text-anchor="end">0</text>
<text x="770.6" y="270.3" font-size="10.67" fill="#e8501e" text-anchor="middle">100</text>
<text x="770.6" y="285.5" font-size="10.67" fill="#e8501e" text-anchor="middle">90</text>
<text x="770.6" y="300.7" font-size="10.67" fill="#e8501e" text-anchor="middle">80</text>
<text x="770.6" y="315.7" font-size="10.67" fill="#e8501e" text-anchor="middle">70</text>
<text x="770.6" y="330.9" font-size="10.67" fill="#e8501e" text-anchor="middle">60</text>
<text x="770.6" y="345.5" font-size="10.67" fill="#e8501e" text-anchor="middle">50</text>
<text transform="translate(292.6,304.5) rotate(-90)" font-size="12.3" fill="#00008b" text-anchor="middle" textLength="26" lengthAdjust="spacingAndGlyphs">opad</text>
<text transform="translate(306,305) rotate(-90)" font-size="12.3" fill="#00008b" text-anchor="middle" textLength="85" lengthAdjust="spacingAndGlyphs">(mm/h, kg/m²/h)</text>
<text transform="translate(802.5,304.3) rotate(-90)" font-size="12.3" fill="#00008b" text-anchor="middle">(%)</text>
<text transform="translate(816,306.6) rotate(-90)" font-size="12.3" fill="#00008b" text-anchor="middle" textLength="91" lengthAdjust="spacingAndGlyphs">wilgotność wzgl.</text>
<rect x="342" y="351" width="415" height="77" fill="#fff"/>
<rect x="401" y="351" width="105" height="77" fill="#ebebeb"/>
<rect x="570" y="351" width="105" height="77" fill="#ebebeb"/>
<rect x="739" y="351" width="18" height="77" fill="#ebebeb"/>
<path d="M419.5 351V428M441.5 351V428M462.5 351V428M483.5 351V428M504.5 351V428M401 365.5H506M401 384.5H506M401 403.5H506M401 421.5H506M588.5 351V428M610.5 351V428M631.5 351V428M652.5 351V428M673.5 351V428M570 365.5H675M570 384.5H675M570 403.5H675M570 421.5H675M739 365.5H757M739 384.5H757M739 403.5H757M739 421.5H757" stroke="#fff" stroke-width="1" fill="none" shape-rendering="crispEdges"/>
<clipPath id="pclip"><polygon points="342.4,357.2 349.3,359.1 363.9,360.5 377.6,365 385.4,366.3 399,367.7 408.8,369.3 419.5,372.2 430,372.4 442.2,375.4 461.7,380.2 483.7,387.6 503.2,391.2 525.1,392 537.3,395.6 552,399.8 573.9,402.7 588.5,407.8 610.5,409.5 620,411.2 629.8,413.2 649.3,417.6 673.7,418.5 695.6,417.6 715.1,420.5 737,418.5 757.5,417.3 757.5,428 342,428"/></clipPath>
<defs><linearGradient id="og2" x1="0" x2="1" y1="0" y2="0"><stop offset="0" stop-color="#ffc40c"/><stop offset="1" stop-color="#fff000"/></linearGradient></defs>
<g clip-path="url(#pclip)">
<rect x="342" y="351" width="7" height="77" fill="url(#og2)"/>
<rect x="349" y="351" width="42" height="77" fill="#ffff00"/>
<rect x="391" y="351" width="43" height="77" fill="#c6fb1e"/>
<rect x="434" y="351" width="28" height="77" fill="#86f00e"/>
<rect x="462" y="351" width="20.5" height="77" fill="#4ee60e"/>
<rect x="482.5" y="351" width="20.5" height="77" fill="#22d40e"/>
<rect x="503" y="351" width="35.5" height="77" fill="#32e00e"/>
<rect x="538.5" y="351" width="35.5" height="77" fill="#02c402"/>
<rect x="574" y="351" width="42.5" height="77" fill="#04a814"/>
<rect x="616.5" y="351" width="34.0" height="77" fill="#02d052"/>
<rect x="650.5" y="351" width="16.0" height="77" fill="#02c442"/>
<rect x="666.5" y="351" width="6.0" height="77" fill="#02e678"/>
<rect x="672.5" y="351" width="22.0" height="77" fill="#02d052"/>
<rect x="694.5" y="351" width="6.0" height="77" fill="#02c84a"/>
<rect x="700.5" y="351" width="36.5" height="77" fill="#04ee82"/>
<rect x="737" y="351" width="21" height="77" fill="#02cc46"/>
</g>
<g stroke="#000" stroke-width="1" stroke-dasharray="2,2" shape-rendering="crispEdges">
<line x1="356.5" y1="351" x2="356.5" y2="428"/>
<line x1="377.5" y1="351" x2="377.5" y2="428"/>
<line x1="398.5" y1="351" x2="398.5" y2="428"/>
<line x1="419.5" y1="351" x2="419.5" y2="428"/>
<line x1="441.5" y1="351" x2="441.5" y2="428"/>
<line x1="462.5" y1="351" x2="462.5" y2="428"/>
<line x1="483.5" y1="351" x2="483.5" y2="428"/>
<line x1="504.5" y1="351" x2="504.5" y2="428"/>
<line x1="525.5" y1="351" x2="525.5" y2="428"/>
<line x1="546.5" y1="351" x2="546.5" y2="428"/>
<line x1="567.5" y1="351" x2="567.5" y2="428"/>
<line x1="588.5" y1="351" x2="588.5" y2="428"/>
<line x1="610.5" y1="351" x2="610.5" y2="428"/>
<line x1="631.5" y1="351" x2="631.5" y2="428"/>
<line x1="652.5" y1="351" x2="652.5" y2="428"/>
<line x1="673.5" y1="351" x2="673.5" y2="428"/>
<line x1="694.5" y1="351" x2="694.5" y2="428"/>
<line x1="715.5" y1="351" x2="715.5" y2="428"/>
<line x1="736.5" y1="351" x2="736.5" y2="428"/>
<line x1="342" y1="365.5" x2="757" y2="365.5"/>
<line x1="342" y1="384.5" x2="757" y2="384.5"/>
<line x1="342" y1="403.5" x2="757" y2="403.5"/>
<line x1="342" y1="421.5" x2="757" y2="421.5"/>
</g>
<polyline points="342.4,357.2 349.3,359.1 363.9,360.5 377.6,365.0 385.4,366.3 399.0,367.7 408.8,369.3 419.5,372.2 430.0,372.4 442.2,375.4 461.7,380.2 483.7,387.6 503.2,391.2 525.1,392.0 537.3,395.6 552.0,399.8 573.9,402.7 588.5,407.8 610.5,409.5 620.0,411.2 629.8,413.2 649.3,417.6 673.7,418.5 695.6,417.6 715.1,420.5 737.0,418.5 757.5,417.3" stroke="#000" stroke-width="2.4" fill="none"/>
<rect x="342.5" y="351.5" width="415" height="77" fill="none" stroke="#000" stroke-width="1" shape-rendering="crispEdges"/>
<text x="337.6" y="369.3" font-size="11.6" fill="#000" text-anchor="end">1015</text>
<text x="337.6" y="388.1" font-size="11.6" fill="#000" text-anchor="end">1010</text>
<text x="337.6" y="406.6" font-size="11.6" fill="#000" text-anchor="end">1005</text>
<text x="337.6" y="424.8" font-size="11.6" fill="#000" text-anchor="end">1000</text>
<text x="769.9" y="368.8" font-size="10.67" fill="#000" text-anchor="middle">761</text>
<text x="769.9" y="387.7" font-size="10.67" fill="#000" text-anchor="middle">758</text>
<text x="769.9" y="406.7" font-size="10.67" fill="#000" text-anchor="middle">754</text>
<text x="769.9" y="424.6" font-size="10.67" fill="#000" text-anchor="middle">750</text>
<text transform="translate(292.6,392.8) rotate(-90)" font-size="12.3" fill="#00008b" text-anchor="middle" textLength="49.5" lengthAdjust="spacingAndGlyphs">ciśnienie</text>
<text transform="translate(305.6,393.4) rotate(-90)" font-size="12.3" fill="#00008b" text-anchor="middle">(hPa)</text>
<text transform="translate(802.5,393) rotate(-90)" font-size="12.3" fill="#00008b" text-anchor="middle" textLength="47" lengthAdjust="spacingAndGlyphs">(mm Hg)</text>
<text transform="translate(816,392.7) rotate(-90)" font-size="12.3" fill="#00008b" text-anchor="middle" textLength="47.5" lengthAdjust="spacingAndGlyphs">ciśnienie</text>
<rect x="342" y="437" width="415" height="78" fill="#fff"/>
<rect x="401" y="437" width="105" height="78" fill="#ebebeb"/>
<rect x="570" y="437" width="105" height="78" fill="#ebebeb"/>
<rect x="739" y="437" width="18" height="78" fill="#ebebeb"/>
<path d="M419.5 437V515M441.5 437V515M462.5 437V515M483.5 437V515M504.5 437V515M401 438.5H506M401 464.5H506M401 490.5H506M588.5 437V515M610.5 437V515M631.5 437V515M652.5 437V515M673.5 437V515M570 438.5H675M570 464.5H675M570 490.5H675M739 438.5H757M739 464.5H757M739 490.5H757" stroke="#fff" stroke-width="1" fill="none" shape-rendering="crispEdges"/>
<clipPath id="wclip2"><polygon points="342.2,491.7 355.6,490 377.6,492.2 397,492.9 420.2,493.4 426.3,492.4 438.5,493.9 460.5,492.7 470,493.9 489.5,492.4 509,493.9 543.2,492.9 567.6,493.4 587,494.6 616.3,495.4 650.5,494.6 674.8,495.1 714.9,497.2 757.5,498.9 757.5,515 342,515"/></clipPath>
<g clip-path="url(#wclip2)">
<rect x="342" y="480" width="310" height="35" fill="#004080"/>
<rect x="652" y="480" width="106" height="35" fill="#0080ff"/>
</g>
<g stroke="#000" stroke-width="1" stroke-dasharray="2,2" shape-rendering="crispEdges">
<line x1="356.5" y1="437" x2="356.5" y2="515"/>
<line x1="377.5" y1="437" x2="377.5" y2="515"/>
<line x1="398.5" y1="437" x2="398.5" y2="515"/>
<line x1="419.5" y1="437" x2="419.5" y2="515"/>
<line x1="441.5" y1="437" x2="441.5" y2="515"/>
<line x1="462.5" y1="437" x2="462.5" y2="515"/>
<line x1="483.5" y1="437" x2="483.5" y2="515"/>
<line x1="504.5" y1="437" x2="504.5" y2="515"/>
<line x1="525.5" y1="437" x2="525.5" y2="515"/>
<line x1="546.5" y1="437" x2="546.5" y2="515"/>
<line x1="567.5" y1="437" x2="567.5" y2="515"/>
<line x1="588.5" y1="437" x2="588.5" y2="515"/>
<line x1="610.5" y1="437" x2="610.5" y2="515"/>
<line x1="631.5" y1="437" x2="631.5" y2="515"/>
<line x1="652.5" y1="437" x2="652.5" y2="515"/>
<line x1="673.5" y1="437" x2="673.5" y2="515"/>
<line x1="694.5" y1="437" x2="694.5" y2="515"/>
<line x1="715.5" y1="437" x2="715.5" y2="515"/>
<line x1="736.5" y1="437" x2="736.5" y2="515"/>
<line x1="342" y1="438.5" x2="757" y2="438.5"/>
<line x1="342" y1="464.5" x2="757" y2="464.5"/>
<line x1="342" y1="490.5" x2="757" y2="490.5"/>
</g>
<polyline points="342.2,491.7 355.6,490.0 377.6,492.2 397.0,492.9 420.2,493.4 426.3,492.4 438.5,493.9 460.5,492.7 470.0,493.9 489.5,492.4 509.0,493.9 543.2,492.9 567.6,493.4 587.0,494.6 616.3,495.4 650.5,494.6 674.8,495.1 714.9,497.2 757.5,498.9" stroke="#0000a0" stroke-width="2" fill="none"/>
<line x1="342.2" y1="453.5" x2="350" y2="453.5" stroke="#ff0000" stroke-width="1" shape-rendering="crispEdges"/>
<line x1="350" y1="448.5" x2="364.1" y2="448.5" stroke="#ff0000" stroke-width="1" shape-rendering="crispEdges"/>
<line x1="364.1" y1="451.5" x2="370.7" y2="451.5" stroke="#ff0000" stroke-width="1" shape-rendering="crispEdges"/>
<line x1="370.7" y1="453.5" x2="377.6" y2="453.5" stroke="#ff0000" stroke-width="1" shape-rendering="crispEdges"/>
<line x1="377.6" y1="455.5" x2="398.8" y2="455.5" stroke="#ff0000" stroke-width="1" shape-rendering="crispEdges"/>
<line x1="398.8" y1="456.5" x2="419.8" y2="456.5" stroke="#ff0000" stroke-width="1" shape-rendering="crispEdges"/>
<line x1="419.8" y1="459.5" x2="433.7" y2="459.5" stroke="#ff0000" stroke-width="1" shape-rendering="crispEdges"/>
<line x1="433.7" y1="461.5" x2="442.2" y2="461.5" stroke="#ff0000" stroke-width="1" shape-rendering="crispEdges"/>
<line x1="442.2" y1="462.5" x2="448.3" y2="462.5" stroke="#ff0000" stroke-width="1" shape-rendering="crispEdges"/>
<line x1="448.3" y1="461.5" x2="455.6" y2="461.5" stroke="#ff0000" stroke-width="1" shape-rendering="crispEdges"/>
<line x1="455.6" y1="460.5" x2="462.9" y2="460.5" stroke="#ff0000" stroke-width="1" shape-rendering="crispEdges"/>
<line x1="462.9" y1="461.5" x2="476.3" y2="461.5" stroke="#ff0000" stroke-width="1" shape-rendering="crispEdges"/>
<line x1="476.3" y1="460.5" x2="482" y2="460.5" stroke="#ff0000" stroke-width="1" shape-rendering="crispEdges"/>
<line x1="482" y1="459.5" x2="497" y2="459.5" stroke="#ff0000" stroke-width="1" shape-rendering="crispEdges"/>
<line x1="497" y1="461.5" x2="511.5" y2="461.5" stroke="#ff0000" stroke-width="1" shape-rendering="crispEdges"/>
<line x1="511.5" y1="462.5" x2="519" y2="462.5" stroke="#ff0000" stroke-width="1" shape-rendering="crispEdges"/>
<line x1="519" y1="460.5" x2="526" y2="460.5" stroke="#ff0000" stroke-width="1" shape-rendering="crispEdges"/>
<line x1="526" y1="459.5" x2="538" y2="459.5" stroke="#ff0000" stroke-width="1" shape-rendering="crispEdges"/>
<line x1="538" y1="461.5" x2="553" y2="461.5" stroke="#ff0000" stroke-width="1" shape-rendering="crispEdges"/>
<line x1="553" y1="460.5" x2="560" y2="460.5" stroke="#ff0000" stroke-width="1" shape-rendering="crispEdges"/>
<line x1="560" y1="461.5" x2="582" y2="461.5" stroke="#ff0000" stroke-width="1" shape-rendering="crispEdges"/>
<line x1="582" y1="462.5" x2="597" y2="462.5" stroke="#ff0000" stroke-width="1" shape-rendering="crispEdges"/>
<line x1="597" y1="464.5" x2="645.6" y2="464.5" stroke="#ff0000" stroke-width="1" shape-rendering="crispEdges"/>
<line x1="645.6" y1="465.5" x2="652" y2="465.5" stroke="#ff0000" stroke-width="1" shape-rendering="crispEdges"/>
<line x1="652" y1="464.5" x2="659" y2="464.5" stroke="#ff0000" stroke-width="1" shape-rendering="crispEdges"/>
<line x1="659" y1="466.5" x2="671" y2="466.5" stroke="#ff0000" stroke-width="1" shape-rendering="crispEdges"/>
<line x1="671" y1="466.5" x2="715" y2="466.5" stroke="#ff0000" stroke-width="1" shape-rendering="crispEdges"/>
<line x1="715" y1="468.5" x2="744.5" y2="468.5" stroke="#ff0000" stroke-width="1" shape-rendering="crispEdges"/>
<line x1="744.5" y1="471.5" x2="758" y2="471.5" stroke="#ff0000" stroke-width="1" shape-rendering="crispEdges"/>
<rect x="342.5" y="437.5" width="415" height="78" fill="none" stroke="#000" stroke-width="1" shape-rendering="crispEdges"/>
<text x="337.6" y="442.5" font-size="11.6" fill="#000" text-anchor="end">15</text>
<text x="337.6" y="467.6" font-size="11.6" fill="#000" text-anchor="end">10</text>
<text x="337.6" y="492.7" font-size="11.6" fill="#000" text-anchor="end">5</text>
<text x="337.6" y="518.0999999999999" font-size="11.6" fill="#000" text-anchor="end">0</text>
<text x="767.4" y="442.6" font-size="10.67" fill="#000" text-anchor="middle">54</text>
<text x="767.4" y="467.4" font-size="10.67" fill="#000" text-anchor="middle">36</text>
<text x="767.4" y="493.2" font-size="10.67" fill="#000" text-anchor="middle">18</text>
<text x="767.4" y="519" font-size="10.67" fill="#000" text-anchor="middle">0</text>
<text transform="translate(292.3,481.5) rotate(-90)" font-size="12.3" fill="#00008b" text-anchor="middle" textLength="27" lengthAdjust="spacingAndGlyphs">wiatr</text>
<text transform="translate(305,481.5) rotate(-90)" font-size="12.3" fill="#00008b" text-anchor="middle" textLength="29" lengthAdjust="spacingAndGlyphs">(m/s)</text>
<text transform="translate(802.3,481.4) rotate(-90)" font-size="12.3" fill="#00008b" text-anchor="middle" textLength="33.5" lengthAdjust="spacingAndGlyphs">(km/h)</text>
<text transform="translate(816,481.5) rotate(-90)" font-size="12.3" fill="#00008b" text-anchor="middle" textLength="26.5" lengthAdjust="spacingAndGlyphs">wiatr</text>
<rect x="342" y="522" width="415" height="29" fill="#fff"/>
<rect x="401" y="522" width="105" height="29" fill="#ebebeb"/>
<rect x="570" y="522" width="105" height="29" fill="#ebebeb"/>
<rect x="739" y="522" width="18" height="29" fill="#ebebeb"/>
<path d="M419.5 522V551M441.5 522V551M462.5 522V551M483.5 522V551M504.5 522V551M588.5 522V551M610.5 522V551M631.5 522V551M652.5 522V551M673.5 522V551" stroke="#fff" stroke-width="1" fill="none" shape-rendering="crispEdges"/>
<g stroke="#000" stroke-width="1" stroke-dasharray="2,2" shape-rendering="crispEdges">
<line x1="356.5" y1="522" x2="356.5" y2="551"/>
<line x1="377.5" y1="522" x2="377.5" y2="551"/>
<line x1="398.5" y1="522" x2="398.5" y2="551"/>
<line x1="419.5" y1="522" x2="419.5" y2="551"/>
<line x1="441.5" y1="522" x2="441.5" y2="551"/>
<line x1="462.5" y1="522" x2="462.5" y2="551"/>
<line x1="483.5" y1="522" x2="483.5" y2="551"/>
<line x1="504.5" y1="522" x2="504.5" y2="551"/>
<line x1="525.5" y1="522" x2="525.5" y2="551"/>
<line x1="546.5" y1="522" x2="546.5" y2="551"/>
<line x1="567.5" y1="522" x2="567.5" y2="551"/>
<line x1="588.5" y1="522" x2="588.5" y2="551"/>
<line x1="610.5" y1="522" x2="610.5" y2="551"/>
<line x1="631.5" y1="522" x2="631.5" y2="551"/>
<line x1="652.5" y1="522" x2="652.5" y2="551"/>
<line x1="673.5" y1="522" x2="673.5" y2="551"/>
<line x1="694.5" y1="522" x2="694.5" y2="551"/>
<line x1="715.5" y1="522" x2="715.5" y2="551"/>
<line x1="736.5" y1="522" x2="736.5" y2="551"/>
</g>
<line x1="337" y1="536.3" x2="757.5" y2="536.3" stroke="#0000a0" stroke-width="1.7"/>
<polygon points="335.3,536.3 340.2,533.8 340.2,538.8" fill="#0000a0"/>
<polygon points="342.3,536.3 347.2,533.8 347.2,538.8" fill="#0000a0"/>
<polygon points="349.4,536.3 354.3,533.8 354.3,538.8" fill="#0000a0"/>
<polygon points="356.4,536.3 361.3,533.8 361.3,538.8" fill="#0000a0"/>
<polygon points="363.5,536.3 368.4,533.8 368.4,538.8" fill="#0000a0"/>
<polygon points="370.5,536.3 375.4,533.8 375.4,538.8" fill="#0000a0"/>
<polygon points="377.6,536.3 382.5,533.8 382.5,538.8" fill="#0000a0"/>
<polygon points="384.6,536.3 389.5,533.8 389.5,538.8" fill="#0000a0"/>
<polygon points="391.7,536.3 396.6,533.3 396.6,538.3" fill="#0000a0"/>
<polygon points="398.7,536.3 403.6,533.3 403.6,538.3" fill="#0000a0"/>
<polygon points="405.7,536.3 410.6,533.3 410.6,538.3" fill="#0000a0"/>
<polygon points="412.8,536.3 417.7,532.7 417.7,538.9" fill="#0000a0"/>
<polygon points="419.8,536.3 424.7,532.7 424.7,538.9" fill="#0000a0"/>
<polygon points="426.9,536.3 431.8,532.7 431.8,538.9" fill="#0000a0"/>
<polygon points="433.9,536.3 438.8,532.7 438.8,538.9" fill="#0000a0"/>
<polygon points="441.0,536.3 445.9,533.3 445.9,538.3" fill="#0000a0"/>
<polygon points="448.0,536.3 452.9,533.3 452.9,538.3" fill="#0000a0"/>
<polygon points="455.1,536.3 460.0,533.8 460.0,538.8" fill="#0000a0"/>
<polygon points="462.1,536.3 467.0,533.8 467.0,538.8" fill="#0000a0"/>
<polygon points="469.2,536.3 474.1,533.8 474.1,538.8" fill="#0000a0"/>
<polygon points="476.2,536.3 481.1,533.8 481.1,538.8" fill="#0000a0"/>
<polygon points="483.2,536.3 488.1,533.8 488.1,538.8" fill="#0000a0"/>
<polygon points="490.3,536.3 495.2,533.8 495.2,538.8" fill="#0000a0"/>
<polygon points="497.3,536.3 502.2,533.8 502.2,538.8" fill="#0000a0"/>
<polygon points="504.4,536.3 509.3,533.8 509.3,538.8" fill="#0000a0"/>
<polygon points="511.4,536.3 516.3,533.8 516.3,538.8" fill="#0000a0"/>
<polygon points="518.5,536.3 523.4,533.8 523.4,538.8" fill="#0000a0"/>
<polygon points="525.5,536.3 530.4,533.8 530.4,538.8" fill="#0000a0"/>
<polygon points="532.6,536.3 537.5,533.8 537.5,538.8" fill="#0000a0"/>
<polygon points="539.6,536.3 544.5,533.8 544.5,538.8" fill="#0000a0"/>
<polygon points="546.7,536.3 551.6,533.8 551.6,538.8" fill="#0000a0"/>
<polygon points="553.7,536.3 558.6,533.8 558.6,538.8" fill="#0000a0"/>
<polygon points="560.7,536.3 565.6,533.8 565.6,538.8" fill="#0000a0"/>
<polygon points="567.8,536.3 572.7,533.8 572.7,538.8" fill="#0000a0"/>
<polygon points="574.8,536.3 579.7,533.8 579.7,538.8" fill="#0000a0"/>
<polygon points="581.9,536.3 586.8,533.8 586.8,538.8" fill="#0000a0"/>
<polygon points="588.9,536.3 593.8,533.8 593.8,538.8" fill="#0000a0"/>
<polygon points="596.0,536.3 600.9,533.8 600.9,538.8" fill="#0000a0"/>
<polygon points="603.0,536.3 607.9,533.8 607.9,538.8" fill="#0000a0"/>
<polygon points="610.1,536.3 615.0,533.8 615.0,538.8" fill="#0000a0"/>
<polygon points="617.1,536.3 622.0,533.8 622.0,538.8" fill="#0000a0"/>
<polygon points="624.1,536.3 629.0,533.8 629.0,538.8" fill="#0000a0"/>
<polygon points="631.2,536.3 636.1,533.8 636.1,538.8" fill="#0000a0"/>
<polygon points="638.2,536.3 643.1,533.8 643.1,538.8" fill="#0000a0"/>
<polygon points="645.3,536.3 650.2,533.8 650.2,538.8" fill="#0000a0"/>
<polygon points="652.3,536.3 657.2,533.8 657.2,538.8" fill="#0000a0"/>
<polygon points="659.4,536.3 664.3,533.8 664.3,538.8" fill="#0000a0"/>
<polygon points="666.4,536.3 671.3,533.8 671.3,538.8" fill="#0000a0"/>
<polygon points="673.5,536.3 678.4,533.8 678.4,538.8" fill="#0000a0"/>
<polygon points="680.5,536.3 685.4,533.8 685.4,538.8" fill="#0000a0"/>
<polygon points="687.6,536.3 692.5,533.8 692.5,538.8" fill="#0000a0"/>
<polygon points="694.6,536.3 699.5,533.8 699.5,538.8" fill="#0000a0"/>
<polygon points="701.6,536.3 706.5,534.5 706.5,539.5" fill="#0000a0"/>
<polygon points="708.7,536.3 713.6,534.5 713.6,539.5" fill="#0000a0"/>
<polygon points="715.7,536.3 720.6,534.5 720.6,539.5" fill="#0000a0"/>
<polygon points="722.8,536.3 727.7,534.5 727.7,539.5" fill="#0000a0"/>
<polygon points="729.8,536.3 734.7,534.5 734.7,539.5" fill="#0000a0"/>
<polygon points="736.9,536.3 741.8,534.5 741.8,539.5" fill="#0000a0"/>
<polygon points="743.9,536.3 748.8,534.5 748.8,539.5" fill="#0000a0"/>
<polygon points="751.0,536.3 755.9,534.5 755.9,539.5" fill="#0000a0"/>
<polyline points="742.0,537.0 757.0,535.6 764.0,533.6" stroke="#0000a0" stroke-width="1" fill="none"/>
<rect x="342.5" y="522.5" width="415" height="29" fill="none" stroke="#000" stroke-width="1" shape-rendering="crispEdges"/>
<text x="284.5" y="541" font-size="12.5" fill="#00008b">W</text>
<text x="294.8" y="531.5" font-size="10.5" fill="#00008b">N</text>
<text x="295.0" y="547" font-size="10.5" fill="#00008b">S</text>
<text x="301.3" y="539.8" font-size="10.5" fill="#00008b">E</text>
<text x="792.8" y="541" font-size="12.5" fill="#00008b">W</text>
<text x="803.0999999999999" y="531.5" font-size="10.5" fill="#00008b">N</text>
<text x="803.3" y="547" font-size="10.5" fill="#00008b">S</text>
<text x="809.5999999999999" y="539.8" font-size="10.5" fill="#00008b">E</text>
<rect x="342" y="558" width="415" height="78" fill="#87d4fd"/>
<rect x="401" y="558" width="105" height="78" fill="#80c3ee"/>
<rect x="570" y="558" width="105" height="78" fill="#80c3ee"/>
<rect x="739" y="558" width="18" height="78" fill="#80c3ee"/>
<path d="M419.5 558V636M441.5 558V636M462.5 558V636M483.5 558V636M504.5 558V636M401 578.5H506M401 597.5H506M401 616.5H506M588.5 558V636M610.5 558V636M631.5 558V636M652.5 558V636M673.5 558V636M570 578.5H675M570 597.5H675M570 616.5H675M739 578.5H757M739 597.5H757M739 616.5H757" stroke="#87d4fd" stroke-width="1" fill="none" shape-rendering="crispEdges"/>
<circle cx="483.3" cy="630.0" r="2.8" fill="#fff"/>
<circle cx="483.3" cy="625.2" r="2.8" fill="#ccc"/>
<circle cx="483.3" cy="620.3" r="2.8" fill="#999"/>
<circle cx="483.3" cy="615.4" r="2.8" fill="#555"/>
<circle cx="490.3" cy="627.1" r="2.8" fill="#fff"/>
<circle cx="490.3" cy="623.2" r="2.8" fill="#ccc"/>
<circle cx="490.3" cy="619.3" r="2.8" fill="#888"/>
<circle cx="497.4" cy="631.0" r="2.8" fill="#fff"/>
<circle cx="497.4" cy="629.0" r="2.8" fill="#ddd"/>
<circle cx="497.4" cy="627.2" r="2.8" fill="#aaa"/>
<circle cx="497.4" cy="625.6" r="2.8" fill="#666"/>
<circle cx="504.4" cy="631.0" r="2.8" fill="#fff"/>
<circle cx="504.4" cy="629.0" r="2.8" fill="#ddd"/>
<circle cx="504.4" cy="627.2" r="2.8" fill="#aaa"/>
<circle cx="504.4" cy="625.6" r="2.8" fill="#666"/>
<circle cx="511.5" cy="631.0" r="2.8" fill="#fff"/>
<circle cx="511.5" cy="629.0" r="2.8" fill="#ddd"/>
<circle cx="511.5" cy="627.2" r="2.8" fill="#aaa"/>
<circle cx="511.5" cy="625.6" r="2.8" fill="#666"/>
<circle cx="518.5" cy="631.0" r="2.8" fill="#fff"/>
<circle cx="518.5" cy="629.0" r="2.8" fill="#ddd"/>
<circle cx="518.5" cy="627.2" r="2.8" fill="#aaa"/>
<circle cx="518.5" cy="625.6" r="2.8" fill="#666"/>
<circle cx="525.6" cy="631.0" r="2.8" fill="#fff"/>
<circle cx="525.6" cy="629.0" r="2.8" fill="#ddd"/>
<circle cx="525.6" cy="627.2" r="2.8" fill="#aaa"/>
<circle cx="525.6" cy="625.6" r="2.8" fill="#666"/>
<circle cx="546.7" cy="631.0" r="2.8" fill="#fff"/>
<circle cx="546.7" cy="629.0" r="2.8" fill="#ddd"/>
<circle cx="546.7" cy="627.2" r="2.8" fill="#aaa"/>
<circle cx="546.7" cy="625.6" r="2.8" fill="#666"/>
<circle cx="553.8" cy="631.0" r="2.8" fill="#fff"/>
<circle cx="553.8" cy="629.0" r="2.8" fill="#ddd"/>
<circle cx="553.8" cy="627.2" r="2.8" fill="#aaa"/>
<circle cx="553.8" cy="625.6" r="2.8" fill="#666"/>
<circle cx="560.8" cy="631.0" r="2.8" fill="#fff"/>
<circle cx="560.8" cy="629.0" r="2.8" fill="#ddd"/>
<circle cx="560.8" cy="627.2" r="2.8" fill="#aaa"/>
<circle cx="560.8" cy="625.6" r="2.8" fill="#666"/>
<circle cx="567.8" cy="631.0" r="2.8" fill="#fff"/>
<circle cx="567.8" cy="629.0" r="2.8" fill="#ddd"/>
<circle cx="567.8" cy="627.2" r="2.8" fill="#aaa"/>
<circle cx="567.8" cy="625.6" r="2.8" fill="#666"/>
<circle cx="574.9" cy="631.0" r="2.8" fill="#fff"/>
<circle cx="574.9" cy="629.0" r="2.8" fill="#ddd"/>
<circle cx="574.9" cy="627.2" r="2.8" fill="#aaa"/>
<circle cx="574.9" cy="625.6" r="2.8" fill="#666"/>
<circle cx="581.9" cy="631.0" r="2.8" fill="#fff"/>
<circle cx="581.9" cy="629.0" r="2.8" fill="#ddd"/>
<circle cx="581.9" cy="627.2" r="2.8" fill="#aaa"/>
<circle cx="581.9" cy="625.6" r="2.8" fill="#666"/>
<circle cx="589.0" cy="631.0" r="2.8" fill="#fff"/>
<circle cx="589.0" cy="629.0" r="2.8" fill="#ddd"/>
<circle cx="589.0" cy="627.2" r="2.8" fill="#aaa"/>
<circle cx="589.0" cy="625.6" r="2.8" fill="#666"/>
<circle cx="596.0" cy="631.0" r="2.8" fill="#fff"/>
<circle cx="596.0" cy="629.0" r="2.8" fill="#ddd"/>
<circle cx="596.0" cy="627.2" r="2.8" fill="#aaa"/>
<circle cx="596.0" cy="625.6" r="2.8" fill="#666"/>
<circle cx="603.1" cy="631.0" r="2.8" fill="#fff"/>
<circle cx="603.1" cy="629.0" r="2.8" fill="#ddd"/>
<circle cx="603.1" cy="627.2" r="2.8" fill="#aaa"/>
<circle cx="603.1" cy="625.6" r="2.8" fill="#666"/>
<circle cx="610.1" cy="631.0" r="2.8" fill="#fff"/>
<circle cx="610.1" cy="629.0" r="2.8" fill="#ddd"/>
<circle cx="610.1" cy="627.2" r="2.8" fill="#aaa"/>
<circle cx="610.1" cy="625.6" r="2.8" fill="#666"/>
<circle cx="617.2" cy="631.0" r="2.8" fill="#fff"/>
<circle cx="617.2" cy="629.0" r="2.8" fill="#ddd"/>
<circle cx="617.2" cy="627.2" r="2.8" fill="#aaa"/>
<circle cx="617.2" cy="625.6" r="2.8" fill="#666"/>
<circle cx="624.2" cy="631.0" r="2.8" fill="#fff"/>
<circle cx="624.2" cy="629.0" r="2.8" fill="#ddd"/>
<circle cx="624.2" cy="627.2" r="2.8" fill="#aaa"/>
<circle cx="624.2" cy="625.6" r="2.8" fill="#666"/>
<circle cx="631.2" cy="631.0" r="2.8" fill="#fff"/>
<circle cx="631.2" cy="629.0" r="2.8" fill="#ddd"/>
<circle cx="631.2" cy="627.2" r="2.8" fill="#aaa"/>
<circle cx="631.2" cy="625.6" r="2.8" fill="#666"/>
<circle cx="638.3" cy="631.0" r="2.8" fill="#fff"/>
<circle cx="638.3" cy="629.0" r="2.8" fill="#ddd"/>
<circle cx="638.3" cy="627.2" r="2.8" fill="#aaa"/>
<circle cx="638.3" cy="625.6" r="2.8" fill="#666"/>
<circle cx="645.3" cy="631.0" r="2.8" fill="#fff"/>
<circle cx="645.3" cy="629.0" r="2.8" fill="#ddd"/>
<circle cx="645.3" cy="627.2" r="2.8" fill="#aaa"/>
<circle cx="645.3" cy="625.6" r="2.8" fill="#666"/>
<circle cx="652.4" cy="631.0" r="2.8" fill="#fff"/>
<circle cx="652.4" cy="629.0" r="2.8" fill="#ddd"/>
<circle cx="652.4" cy="627.2" r="2.8" fill="#aaa"/>
<circle cx="652.4" cy="625.6" r="2.8" fill="#666"/>
<circle cx="659.4" cy="631.0" r="2.8" fill="#fff"/>
<circle cx="659.4" cy="629.0" r="2.8" fill="#ddd"/>
<circle cx="659.4" cy="627.2" r="2.8" fill="#aaa"/>
<circle cx="659.4" cy="625.6" r="2.8" fill="#666"/>
<circle cx="666.5" cy="631.0" r="2.8" fill="#fff"/>
<circle cx="666.5" cy="629.0" r="2.8" fill="#ddd"/>
<circle cx="666.5" cy="627.2" r="2.8" fill="#aaa"/>
<circle cx="666.5" cy="625.6" r="2.8" fill="#666"/>
<circle cx="673.5" cy="631.0" r="2.8" fill="#fff"/>
<circle cx="673.5" cy="629.0" r="2.8" fill="#ddd"/>
<circle cx="673.5" cy="627.2" r="2.8" fill="#aaa"/>
<circle cx="673.5" cy="625.6" r="2.8" fill="#666"/>
<circle cx="680.6" cy="631.0" r="2.8" fill="#fff"/>
<circle cx="680.6" cy="629.0" r="2.8" fill="#ddd"/>
<circle cx="680.6" cy="627.2" r="2.8" fill="#aaa"/>
<circle cx="680.6" cy="625.6" r="2.8" fill="#666"/>
<circle cx="687.6" cy="631.0" r="2.8" fill="#fff"/>
<circle cx="687.6" cy="629.0" r="2.8" fill="#ddd"/>
<circle cx="687.6" cy="627.2" r="2.8" fill="#aaa"/>
<circle cx="687.6" cy="625.6" r="2.8" fill="#666"/>
<circle cx="694.6" cy="631.0" r="2.8" fill="#fff"/>
<circle cx="694.6" cy="629.0" r="2.8" fill="#ddd"/>
<circle cx="694.6" cy="627.2" r="2.8" fill="#aaa"/>
<circle cx="694.6" cy="625.6" r="2.8" fill="#666"/>
<circle cx="701.7" cy="631.0" r="2.8" fill="#fff"/>
<circle cx="701.7" cy="629.0" r="2.8" fill="#ddd"/>
<circle cx="701.7" cy="627.2" r="2.8" fill="#aaa"/>
<circle cx="701.7" cy="625.6" r="2.8" fill="#666"/>
<circle cx="708.7" cy="631.0" r="2.8" fill="#fff"/>
<circle cx="708.7" cy="629.0" r="2.8" fill="#ddd"/>
<circle cx="708.7" cy="627.2" r="2.8" fill="#aaa"/>
<circle cx="708.7" cy="625.6" r="2.8" fill="#666"/>
<circle cx="715.8" cy="631.0" r="2.8" fill="#fff"/>
<circle cx="715.8" cy="629.0" r="2.8" fill="#ddd"/>
<circle cx="715.8" cy="627.2" r="2.8" fill="#aaa"/>
<circle cx="715.8" cy="625.6" r="2.8" fill="#666"/>
<circle cx="722.8" cy="631.0" r="2.8" fill="#fff"/>
<circle cx="722.8" cy="629.0" r="2.8" fill="#ddd"/>
<circle cx="722.8" cy="627.2" r="2.8" fill="#aaa"/>
<circle cx="722.8" cy="625.6" r="2.8" fill="#666"/>
<circle cx="729.9" cy="631.0" r="2.8" fill="#fff"/>
<circle cx="729.9" cy="629.0" r="2.8" fill="#ddd"/>
<circle cx="729.9" cy="627.2" r="2.8" fill="#aaa"/>
<circle cx="729.9" cy="625.6" r="2.8" fill="#666"/>
<circle cx="736.9" cy="631.0" r="2.8" fill="#fff"/>
<circle cx="736.9" cy="629.0" r="2.8" fill="#ddd"/>
<circle cx="736.9" cy="627.2" r="2.8" fill="#aaa"/>
<circle cx="736.9" cy="625.6" r="2.8" fill="#666"/>
<circle cx="744.0" cy="631.0" r="2.8" fill="#fff"/>
<circle cx="744.0" cy="629.0" r="2.8" fill="#ddd"/>
<circle cx="744.0" cy="627.2" r="2.8" fill="#aaa"/>
<circle cx="744.0" cy="625.6" r="2.8" fill="#666"/>
<circle cx="751.0" cy="631.0" r="2.8" fill="#fff"/>
<circle cx="751.0" cy="629.0" r="2.8" fill="#ddd"/>
<circle cx="751.0" cy="627.2" r="2.8" fill="#aaa"/>
<circle cx="751.0" cy="625.6" r="2.8" fill="#666"/>
<circle cx="343.6" cy="629.8" r="2.85" fill="#fff"/>
<circle cx="349.4" cy="629.8" r="2.85" fill="#fff"/>
<circle cx="356.5" cy="629.8" r="2.85" fill="#ccc"/>
<circle cx="363.5" cy="629.8" r="2.85" fill="#888"/>
<circle cx="370.6" cy="629.8" r="2.85" fill="#000"/>
<circle cx="377.6" cy="629.8" r="2.85" fill="#fff"/>
<circle cx="384.7" cy="629.8" r="2.85" fill="#000"/>
<circle cx="391.7" cy="629.8" r="2.85" fill="#ccc"/>
<circle cx="398.8" cy="629.8" r="2.85" fill="#444"/>
<circle cx="405.8" cy="629.8" r="2.85" fill="#000"/>
<circle cx="412.8" cy="629.8" r="2.85" fill="#000"/>
<circle cx="419.9" cy="629.8" r="2.85" fill="#999"/>
<circle cx="426.9" cy="629.8" r="2.85" fill="#000"/>
<circle cx="434.0" cy="629.8" r="2.85" fill="#777"/>
<circle cx="441.0" cy="629.8" r="2.85" fill="#bbb"/>
<circle cx="448.1" cy="629.8" r="2.85" fill="#999"/>
<circle cx="455.1" cy="629.8" r="2.85" fill="#555"/>
<circle cx="462.2" cy="629.8" r="2.85" fill="#000"/>
<circle cx="469.2" cy="629.8" r="2.85" fill="#999"/>
<circle cx="476.3" cy="629.8" r="2.85" fill="#ccc"/>
<circle cx="342.4" cy="581.2" r="2.85" fill="#999"/>
<circle cx="349.4" cy="581.7" r="2.85" fill="#bbb"/>
<circle cx="349.4" cy="621.2" r="2.85" fill="#ccc"/>
<circle cx="356.5" cy="604.9" r="2.85" fill="#666"/>
<circle cx="356.5" cy="619.5" r="2.85" fill="#888"/>
<circle cx="377.6" cy="614.0" r="2.85" fill="#777"/>
<circle cx="377.6" cy="621.2" r="2.85" fill="#ccc"/>
<circle cx="391.7" cy="619.0" r="2.85" fill="#888"/>
<circle cx="419.9" cy="616.5" r="2.85" fill="#666"/>
<circle cx="448.1" cy="619.0" r="2.85" fill="#555"/>
<circle cx="469.2" cy="620.5" r="2.85" fill="#555"/>
<circle cx="476.3" cy="619.0" r="2.85" fill="#555"/>
<circle cx="356.5" cy="601.2" r="2.85" fill="#000"/>
<circle cx="363.5" cy="614.6" r="2.85" fill="#000"/>
<circle cx="377.6" cy="609.3" r="2.85" fill="#000"/>
<circle cx="391.7" cy="615.4" r="2.85" fill="#000"/>
<circle cx="398.8" cy="612.2" r="2.85" fill="#000"/>
<circle cx="419.9" cy="613.4" r="2.85" fill="#000"/>
<circle cx="434.0" cy="613.4" r="2.85" fill="#000"/>
<circle cx="441.0" cy="614.6" r="2.85" fill="#000"/>
<circle cx="448.1" cy="614.6" r="2.85" fill="#000"/>
<circle cx="455.1" cy="621.2" r="2.85" fill="#000"/>
<circle cx="469.2" cy="618.8" r="2.85" fill="#000"/>
<circle cx="476.3" cy="616.3" r="2.85" fill="#000"/>
<circle cx="483.3" cy="603.2" r="2.85" fill="#000"/>
<circle cx="476.3" cy="616.3" r="2.85" fill="#000"/>
<circle cx="490.3" cy="615.4" r="2.85" fill="#000"/>
<circle cx="469.2" cy="619.5" r="2.85" fill="#000"/>
<circle cx="497.4" cy="624.4" r="2.85" fill="#000"/>
<circle cx="504.4" cy="622.0" r="2.85" fill="#000"/>
<circle cx="511.5" cy="619.0" r="2.85" fill="#000"/>
<circle cx="518.5" cy="619.0" r="2.85" fill="#000"/>
<circle cx="525.6" cy="613.9" r="2.85" fill="#000"/>
<circle cx="532.6" cy="630.0" r="2.85" fill="#000"/>
<circle cx="539.7" cy="630.0" r="2.85" fill="#000"/>
<circle cx="546.7" cy="615.4" r="2.85" fill="#000"/>
<circle cx="553.8" cy="609.3" r="2.85" fill="#000"/>
<circle cx="560.8" cy="608.0" r="2.85" fill="#000"/>
<circle cx="567.8" cy="619.0" r="2.85" fill="#000"/>
<circle cx="574.9" cy="619.0" r="2.85" fill="#000"/>
<circle cx="581.9" cy="608.0" r="2.85" fill="#000"/>
<circle cx="589.0" cy="606.6" r="2.85" fill="#000"/>
<circle cx="596.0" cy="621.5" r="2.85" fill="#000"/>
<circle cx="603.1" cy="623.2" r="2.85" fill="#000"/>
<circle cx="610.1" cy="623.2" r="2.85" fill="#000"/>
<circle cx="617.2" cy="625.0" r="2.85" fill="#000"/>
<circle cx="624.2" cy="625.0" r="2.85" fill="#000"/>
<circle cx="631.2" cy="625.0" r="2.85" fill="#000"/>
<circle cx="638.3" cy="625.0" r="2.85" fill="#000"/>
<circle cx="645.3" cy="625.0" r="2.85" fill="#000"/>
<circle cx="652.4" cy="625.0" r="2.85" fill="#000"/>
<circle cx="659.4" cy="625.0" r="2.85" fill="#000"/>
<circle cx="666.5" cy="625.0" r="2.85" fill="#000"/>
<circle cx="673.5" cy="625.0" r="2.85" fill="#000"/>
<circle cx="680.6" cy="625.0" r="2.85" fill="#000"/>
<circle cx="687.6" cy="625.0" r="2.85" fill="#000"/>
<circle cx="694.6" cy="622.0" r="2.85" fill="#000"/>
<circle cx="701.7" cy="619.8" r="2.85" fill="#000"/>
<circle cx="708.7" cy="619.8" r="2.85" fill="#000"/>
<circle cx="715.8" cy="622.0" r="2.85" fill="#000"/>
<circle cx="722.8" cy="625.0" r="2.85" fill="#000"/>
<circle cx="729.9" cy="625.0" r="2.85" fill="#000"/>
<circle cx="736.9" cy="625.0" r="2.85" fill="#000"/>
<circle cx="744.0" cy="625.0" r="2.85" fill="#000"/>
<circle cx="751.0" cy="625.0" r="2.85" fill="#000"/>
<circle cx="722.8" cy="607.5" r="2.85" fill="#000"/>
<circle cx="729.8" cy="607.5" r="2.85" fill="#000"/>
<circle cx="736.9" cy="606.9" r="2.85" fill="#000"/>
<circle cx="743.9" cy="609.0" r="2.85" fill="#000"/>
<circle cx="750.9" cy="609.0" r="2.85" fill="#000"/>
<circle cx="757.0" cy="607.0" r="2.85" fill="#000"/>
<circle cx="342.4" cy="576.5" r="2.85" fill="#b22222"/>
<circle cx="349.4" cy="577.5" r="2.85" fill="#b22222"/>
<circle cx="356.5" cy="578.5" r="2.85" fill="#b22222"/>
<circle cx="363.5" cy="578.5" r="2.85" fill="#b22222"/>
<circle cx="370.6" cy="578.5" r="2.85" fill="#b22222"/>
<circle cx="377.6" cy="578.5" r="2.85" fill="#b22222"/>
<circle cx="384.7" cy="578.5" r="2.85" fill="#b22222"/>
<circle cx="391.7" cy="578.5" r="2.85" fill="#b22222"/>
<circle cx="398.8" cy="579.8" r="2.85" fill="#b22222"/>
<circle cx="405.8" cy="580.7" r="2.85" fill="#b22222"/>
<circle cx="412.8" cy="584.9" r="2.85" fill="#b22222"/>
<circle cx="419.9" cy="587.3" r="2.85" fill="#b22222"/>
<circle cx="426.9" cy="589.0" r="2.85" fill="#b22222"/>
<circle cx="434.0" cy="593.4" r="2.85" fill="#b22222"/>
<circle cx="441.0" cy="570.0" r="2.85" fill="#b22222"/>
<circle cx="448.1" cy="570.0" r="2.85" fill="#b22222"/>
<circle cx="455.1" cy="570.0" r="2.85" fill="#b22222"/>
<circle cx="462.2" cy="570.0" r="2.85" fill="#b22222"/>
<circle cx="469.2" cy="570.0" r="2.85" fill="#b22222"/>
<circle cx="476.3" cy="570.0" r="2.85" fill="#b22222"/>
<circle cx="483.3" cy="570.0" r="2.85" fill="#b22222"/>
<circle cx="490.3" cy="570.0" r="2.85" fill="#b22222"/>
<circle cx="497.4" cy="570.0" r="2.85" fill="#b22222"/>
<circle cx="504.4" cy="570.0" r="2.85" fill="#b22222"/>
<circle cx="511.5" cy="570.0" r="2.85" fill="#b22222"/>
<circle cx="518.5" cy="570.0" r="2.85" fill="#b22222"/>
<circle cx="525.6" cy="570.0" r="2.85" fill="#b22222"/>
<circle cx="532.6" cy="570.0" r="2.85" fill="#b22222"/>
<circle cx="539.7" cy="570.0" r="2.85" fill="#b22222"/>
<circle cx="546.7" cy="570.0" r="2.85" fill="#b22222"/>
<circle cx="553.8" cy="570.0" r="2.85" fill="#b22222"/>
<circle cx="560.8" cy="570.0" r="2.85" fill="#b22222"/>
<circle cx="567.8" cy="570.0" r="2.85" fill="#b22222"/>
<circle cx="574.9" cy="570.0" r="2.85" fill="#b22222"/>
<circle cx="581.9" cy="570.0" r="2.85" fill="#b22222"/>
<circle cx="589.0" cy="570.0" r="2.85" fill="#b22222"/>
<circle cx="596.0" cy="570.0" r="2.85" fill="#b22222"/>
<circle cx="603.1" cy="570.0" r="2.85" fill="#b22222"/>
<circle cx="610.1" cy="570.0" r="2.85" fill="#b22222"/>
<circle cx="617.2" cy="570.0" r="2.85" fill="#b22222"/>
<circle cx="624.2" cy="570.0" r="2.85" fill="#b22222"/>
<circle cx="631.2" cy="570.0" r="2.85" fill="#b22222"/>
<circle cx="638.3" cy="570.0" r="2.85" fill="#b22222"/>
<circle cx="645.3" cy="570.0" r="2.85" fill="#b22222"/>
<circle cx="652.4" cy="571.5" r="2.85" fill="#b22222"/>
<circle cx="659.4" cy="571.5" r="2.85" fill="#b22222"/>
<circle cx="666.5" cy="571.5" r="2.85" fill="#b22222"/>
<circle cx="673.5" cy="571.5" r="2.85" fill="#b22222"/>
<circle cx="680.6" cy="571.5" r="2.85" fill="#b22222"/>
<circle cx="687.6" cy="571.5" r="2.85" fill="#b22222"/>
<circle cx="694.6" cy="571.5" r="2.85" fill="#b22222"/>
<circle cx="701.7" cy="571.5" r="2.85" fill="#b22222"/>
<circle cx="708.7" cy="571.5" r="2.85" fill="#b22222"/>
<circle cx="715.8" cy="571.5" r="2.85" fill="#b22222"/>
<circle cx="722.8" cy="571.5" r="2.85" fill="#b22222"/>
<circle cx="729.9" cy="571.5" r="2.85" fill="#b22222"/>
<circle cx="736.9" cy="571.5" r="2.85" fill="#b22222"/>
<circle cx="744.0" cy="571.5" r="2.85" fill="#b22222"/>
<circle cx="751.0" cy="571.5" r="2.85" fill="#b22222"/>
<g stroke="#000" stroke-width="1" stroke-dasharray="2,2" shape-rendering="crispEdges">
<line x1="356.5" y1="558" x2="356.5" y2="636"/>
<line x1="377.5" y1="558" x2="377.5" y2="636"/>
<line x1="398.5" y1="558" x2="398.5" y2="636"/>
<line x1="419.5" y1="558" x2="419.5" y2="636"/>
<line x1="441.5" y1="558" x2="441.5" y2="636"/>
<line x1="462.5" y1="558" x2="462.5" y2="636"/>
<line x1="483.5" y1="558" x2="483.5" y2="636"/>
<line x1="504.5" y1="558" x2="504.5" y2="636"/>
<line x1="525.5" y1="558" x2="525.5" y2="636"/>
<line x1="546.5" y1="558" x2="546.5" y2="636"/>
<line x1="567.5" y1="558" x2="567.5" y2="636"/>
<line x1="588.5" y1="558" x2="588.5" y2="636"/>
<line x1="610.5" y1="558" x2="610.5" y2="636"/>
<line x1="631.5" y1="558" x2="631.5" y2="636"/>
<line x1="652.5" y1="558" x2="652.5" y2="636"/>
<line x1="673.5" y1="558" x2="673.5" y2="636"/>
<line x1="694.5" y1="558" x2="694.5" y2="636"/>
<line x1="715.5" y1="558" x2="715.5" y2="636"/>
<line x1="736.5" y1="558" x2="736.5" y2="636"/>
<line x1="342" y1="578.5" x2="757" y2="578.5"/>
<line x1="342" y1="597.5" x2="757" y2="597.5"/>
<line x1="342" y1="616.5" x2="757" y2="616.5"/>
</g>
<polyline points="342.9,574.4 349.5,578.0 356.8,592.0 363.7,593.9 370.7,617.8 377.8,584.1 384.9,609.8 391.7,588.5 412.9,611.0 419.8,593.9 426.8,615.4 433.9,611.0 441.0,596.3 448.0,601.2 461.7,615.4 469.3,604.9 476.3,601.2 483.4,575.6 490.2,574.4 497.3,611.0 504.1,607.3 511.5,576.3 518.3,576.3 525.6,604.1 532.2,604.1 539.5,629.3 553.7,591.0 560.7,595.1 567.6,596.3 574.9,594.6 588.8,596.8 595.9,592.7 602.9,591.0 616.3,593.9 631.0,593.9 640.0,592.6 652.2,590.9 659.0,593.5 664.4,590.2 670.0,593.0 680.0,591.3 687.0,589.1 695.7,591.9 707.9,596.4 714.9,601.7 721.8,596.4 730.0,594.3 737.5,593.7 742.7,600.6 750.7,591.9 757.5,593.7" stroke="#ff9a14" stroke-width="2.3" fill="none" stroke-linejoin="round"/>
<rect x="342.5" y="558.5" width="415" height="78" fill="none" stroke="#000" stroke-width="1" shape-rendering="crispEdges"/>
<text x="337.6" y="562.0" font-size="11.6" fill="#000" text-anchor="end">15.0</text>
<text x="337.6" y="581.5" font-size="11.6" fill="#000" text-anchor="end">7.0</text>
<text x="337.6" y="600.5" font-size="11.6" fill="#000" text-anchor="end">2.0</text>
<text x="337.6" y="620.0" font-size="11.6" fill="#000" text-anchor="end">0.5</text>
<text x="337.6" y="639.0999999999999" font-size="11.6" fill="#000" text-anchor="end">0.0</text>
<text x="761.3" y="561.5" font-size="10.67" fill="#ff8000">100</text>
<text x="761.3" y="581.9000000000001" font-size="10.67" fill="#ff8000">20</text>
<text x="761.3" y="600.5" font-size="10.67" fill="#ff8000">5</text>
<text x="761.3" y="620.9000000000001" font-size="10.67" fill="#ff8000">1</text>
<text x="761.3" y="639.9000000000001" font-size="10.67" fill="#ff8000">0</text>
<text transform="translate(803,594) rotate(-90)" font-size="12.3" fill="#00008b" text-anchor="middle">(km)</text>
<text transform="translate(816,594) rotate(-90)" font-size="12.3" fill="#00008b" text-anchor="middle" textLength="62" lengthAdjust="spacingAndGlyphs">widzialność</text>
<text transform="translate(305.8,594) rotate(-90)" font-size="12.3" fill="#00008b" text-anchor="middle">(km)</text>
<text transform="translate(293,660) rotate(-90)" font-size="12.3" fill="#00008b">e</text>
<text transform="translate(293,646.9) rotate(-90)" font-size="12.3" fill="#00008b" textLength="105.5" lengthAdjust="spacingAndGlyphs">pion. rozciągł. chm.</text>
<rect x="342" y="645" width="415" height="20" fill="#87d4fd"/>
<rect x="401" y="645" width="105" height="20" fill="#80c3ee"/>
<rect x="570" y="645" width="105" height="20" fill="#80c3ee"/>
<rect x="739" y="645" width="18" height="20" fill="#80c3ee"/>
<polygon points="357.4,660.0 363.8,647.9 369.3,650.3 376.6,646.3 428.7,646.3 432.0,648.6 437.0,648.6 439.7,646.3 480.0,646.3 484.0,648.0 490.0,648.0 493.0,646.3 575.0,646.3 579.0,648.0 586.0,648.0 590.0,646.3 757.0,646.3 757.0,660.0" fill="#555"/>
<polygon points="635.5,660.0 637.0,657.0 644.0,658.0 648.0,660.0" fill="#444"/>
<polygon points="656.6,660.0 660.0,658.3 673.0,658.3 673.0,660.0" fill="#444"/>
<polyline points="363.8,660.0 373.9,648.8 383.0,647.0 392.2,654.3 398.6,657.0 405.0,647.3 421.4,647.0 439.7,649.7 447.0,654.3 448.8,660.0" stroke="#9a9a9a" stroke-width="1" fill="none"/>
<polyline points="527.5,660.0 533.0,646.6 544.0,648.4 553.0,648.4 560.4,646.6 575.0,652.5 579.6,660.0" stroke="#9a9a9a" stroke-width="1" fill="none"/>
<polyline points="585.0,660.0 589.7,655.2 595.2,653.4 598.0,660.0" stroke="#9a9a9a" stroke-width="1" fill="none"/>
<polyline points="628.2,660.0 631.0,654.3 635.5,660.0" stroke="#9a9a9a" stroke-width="1" fill="none"/>
<polyline points="648.3,660.0 652.0,652.0 656.6,660.0" stroke="#9a9a9a" stroke-width="1" fill="none"/>
<polyline points="690.4,660.0 694.0,646.6 700.4,648.0 715.0,646.6 724.0,647.0 735.2,649.7 744.3,646.6 757.0,655.2" stroke="#9a9a9a" stroke-width="1" fill="none"/>
<g stroke="#000" stroke-width="1" stroke-dasharray="2,2" shape-rendering="crispEdges">
<line x1="356.5" y1="645" x2="356.5" y2="661"/>
<line x1="377.5" y1="645" x2="377.5" y2="661"/>
<line x1="398.5" y1="645" x2="398.5" y2="661"/>
<line x1="419.5" y1="645" x2="419.5" y2="661"/>
<line x1="441.5" y1="645" x2="441.5" y2="661"/>
<line x1="462.5" y1="645" x2="462.5" y2="661"/>
<line x1="483.5" y1="645" x2="483.5" y2="661"/>
<line x1="504.5" y1="645" x2="504.5" y2="661"/>
<line x1="525.5" y1="645" x2="525.5" y2="661"/>
<line x1="546.5" y1="645" x2="546.5" y2="661"/>
<line x1="567.5" y1="645" x2="567.5" y2="661"/>
<line x1="588.5" y1="645" x2="588.5" y2="661"/>
<line x1="610.5" y1="645" x2="610.5" y2="661"/>
<line x1="631.5" y1="645" x2="631.5" y2="661"/>
<line x1="652.5" y1="645" x2="652.5" y2="661"/>
<line x1="673.5" y1="645" x2="673.5" y2="661"/>
<line x1="694.5" y1="645" x2="694.5" y2="661"/>
<line x1="715.5" y1="645" x2="715.5" y2="661"/>
<line x1="736.5" y1="645" x2="736.5" y2="661"/>
</g>
<path d="M342.5 660 V645.5 H757.5 V660" fill="none" stroke="#000" shape-rendering="crispEdges"/>
<text x="337.6" y="649" font-size="11.6" fill="#000" text-anchor="end">8</text>
<text x="761.3" y="650.2" font-size="10.67" fill="#ff8000">1</text>
</svg></body></html>
